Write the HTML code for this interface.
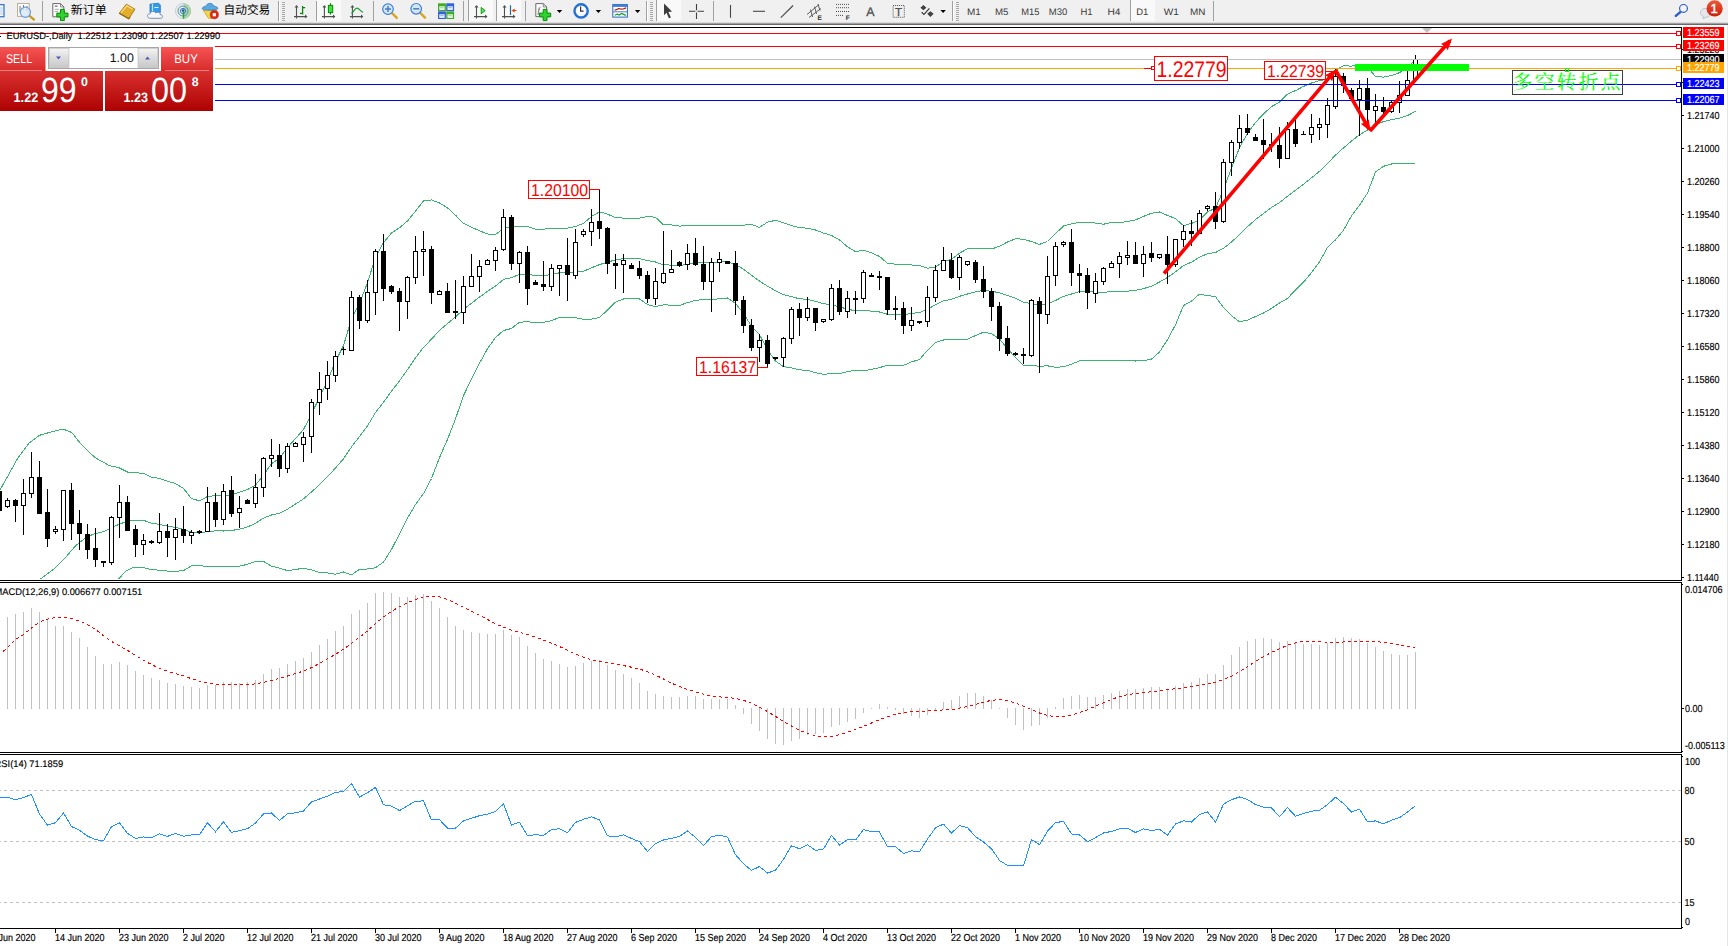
<!DOCTYPE html>
<html><head><meta charset="utf-8"><title>EURUSD Daily</title>
<style>
html,body{margin:0;padding:0;background:#fff;}
body{width:1728px;height:946px;overflow:hidden;position:relative;font-family:"Liberation Sans", "Noto Sans CJK SC", sans-serif;}
svg{position:absolute;left:0;top:0;}
.cr{shape-rendering:crispEdges;}
text{font-family:"Liberation Sans", "Noto Sans CJK SC", sans-serif;text-rendering:geometricPrecision;}
</style></head><body>
<svg width="1728" height="946" viewBox="0 0 1728 946">
<defs><clipPath id="blk"><rect x="1683" y="54" width="41" height="8"/></clipPath><clipPath id="mainclip"><rect x="0" y="28" width="1681" height="552"/></clipPath></defs>
<g class="cr">
<rect x="0" y="27" width="1682" height="1" fill="#000"/>
<rect x="0" y="580" width="1682" height="1" fill="#000"/>
<rect x="0" y="582" width="1682" height="1" fill="#000"/>
<rect x="0" y="752" width="1682" height="1" fill="#000"/>
<rect x="0" y="754" width="1682" height="1" fill="#000"/>
<rect x="0" y="928" width="1682" height="1" fill="#000"/>
<rect x="1681" y="27" width="1" height="554" fill="#000"/>
<rect x="1681" y="582" width="1" height="171" fill="#000"/>
<rect x="1681" y="754" width="1" height="175" fill="#000"/>
<g clip-path="url(#mainclip)">
<polyline points="0,490 9,474 18,457.7 28.8,443.4 39.5,435.3 52.1,431.7 62.9,429 71.9,432.6 79,441.6 86.3,449.6 95.2,457.7 109.6,465.8 118.6,467.6 127.6,472.1 143.8,473.4 151.5,477.2 159.5,478.4 167.5,481.3 175.5,483.5 183.5,488.4 191.5,498.7 199.5,500.8 207.5,496.5 215.5,495.6 223.5,495.9 231.5,494.6 239.5,492.2 247.5,489.5 255.5,485.3 263.5,474.8 271.5,463.8 279.5,458.4 287.5,447.6 295.5,438.6 303.5,429.6 311.5,413.9 319.5,397.2 327.5,380.6 335.5,361.8 343.5,345.5 351.5,319 359.5,303.5 367.5,282.7 375.5,257.2 383.5,242.6 391.5,233.1 399.5,227.7 407.5,221 415.5,211.1 423.5,201 431.5,199.9 439.5,203 447.5,207.9 455.5,215.2 463.5,223.3 471.5,227.3 479.5,230.8 487.5,234 495.5,234.4 503.5,228.4 511.5,226.9 519.5,226.4 527.5,226.5 535.5,229.1 543.5,229.1 551.5,228.4 559.5,228.2 567.5,228.1 575.5,226.6 583.5,223.3 591.5,216.5 599.5,211.8 607.5,214.1 615.5,217.6 623.5,218.1 631.5,218.2 639.5,218.1 647.5,216.4 655.5,217.3 663.5,224.8 671.5,225 679.5,226.1 687.5,225.5 695.5,225.6 703.5,226 711.5,225.7 719.5,225.5 727.5,225.3 735.5,225.6 743.5,225.1 751.5,224.5 759.5,227.4 767.5,222.2 775.5,220.3 783.5,222.7 791.5,225.5 799.5,227.8 807.5,228.1 815.5,230 823.5,233.1 831.5,235.4 839.5,240 847.5,246.7 855.5,251.7 863.5,250.2 871.5,252.9 879.5,256.4 887.5,263.4 895.5,264.2 903.5,264.2 911.5,265 919.5,265.6 927.5,268.2 935.5,267.1 943.5,261.8 951.5,259.2 959.5,253.2 967.5,248.7 975.5,248.1 983.5,248.6 991.5,249 999.5,246.3 1007.5,242 1015.5,238.8 1023.5,239.2 1031.5,241.6 1039.5,244.4 1047.5,241.5 1055.5,233.7 1063.5,226 1071.5,223.8 1079.5,222.3 1087.5,222.1 1095.5,223.1 1103.5,224.2 1111.5,222.6 1119.5,222.5 1127.5,221.6 1135.5,219.9 1143.5,216.4 1151.5,213.2 1159.5,212 1167.5,215.4 1175.5,218.6 1183.5,225.6 1191.5,223.4 1199.5,220.4 1207.5,211.8 1215.5,208.3 1223.5,189.4 1231.5,168.1 1239.5,147.6 1247.5,133.2 1255.5,122.5 1263.5,113.8 1271.5,106.6 1279.5,102.2 1287.5,94.1 1295.5,90.6 1303.5,86.4 1311.5,83 1319.5,80.7 1327.5,79.2 1335.5,70.5 1343.5,65.6 1351.5,66.2 1359.5,64.5 1367.5,67 1375.5,76.5 1383.5,77.1 1391.5,75.4 1399.5,72.7 1407.5,67.8 1415.5,59.5" fill="none" stroke="#3cb371" stroke-width="1" />
<polyline points="40.4,579 53.9,569.1 64.7,558.4 75.5,545.8 84.5,538.6 93.4,534.1 104.2,531.4 115,526 124,522.4 131.2,520.3 143.8,520.3 151.5,523.3 159.5,524.4 167.5,526.2 175.5,527.4 183.5,529.5 191.5,532.3 199.5,533.2 207.5,531.4 215.5,530.9 223.5,531 231.5,530.5 239.5,529.2 247.5,526.9 255.5,523.3 263.5,518.1 271.5,515 279.5,513.3 287.5,509.1 295.5,504.1 303.5,498.9 311.5,491.9 319.5,484.8 327.5,476.7 335.5,468 343.5,458.8 351.5,447 359.5,436.4 367.5,425.9 375.5,412.5 383.5,402.3 391.5,391.2 399.5,380.9 407.5,369.6 415.5,357.8 423.5,347.3 431.5,339.2 439.5,330.3 447.5,323.6 455.5,317 463.5,309.5 471.5,303.2 479.5,297.1 487.5,291.3 495.5,286 503.5,279.4 511.5,277.7 519.5,274.3 527.5,274.1 535.5,275.8 543.5,275.7 551.5,274.5 559.5,272.8 567.5,272.6 575.5,272.2 583.5,271.3 591.5,267.8 599.5,264.6 607.5,262.2 615.5,259.8 623.5,258.6 631.5,258.1 639.5,258.6 647.5,260.5 655.5,262 663.5,264.8 671.5,265.1 679.5,265.8 687.5,264 695.5,263 703.5,262.8 711.5,262.5 719.5,262.2 727.5,261.6 735.5,264.5 743.5,269.2 751.5,275.4 759.5,281.1 767.5,286.1 775.5,290.7 783.5,294.6 791.5,296.7 799.5,298.8 807.5,299.3 815.5,301.3 823.5,303.7 831.5,304.6 839.5,306.9 847.5,309.1 855.5,310.9 863.5,310.4 871.5,311.1 879.5,312 887.5,314.3 895.5,314.8 903.5,314.8 911.5,313.4 919.5,312.5 927.5,309.2 935.5,304.8 943.5,300.9 951.5,299.3 959.5,296.3 967.5,294 975.5,291.8 983.5,290.4 991.5,291.3 999.5,292.7 1007.5,295.4 1015.5,298.2 1023.5,302.3 1031.5,303.5 1039.5,305.3 1047.5,303.7 1055.5,300.5 1063.5,296.4 1071.5,294 1079.5,291.6 1087.5,291.3 1095.5,291.9 1103.5,292.3 1111.5,291.6 1119.5,291.5 1127.5,291.2 1135.5,290.4 1143.5,288.6 1151.5,286.2 1159.5,282 1167.5,277.5 1175.5,271.8 1183.5,265.6 1191.5,262.2 1199.5,257.2 1207.5,253.7 1215.5,252.5 1223.5,248.4 1231.5,242 1239.5,234.6 1247.5,226.6 1255.5,219.6 1263.5,213.4 1271.5,207.5 1279.5,202.6 1287.5,196.3 1295.5,190.3 1303.5,184.3 1311.5,177.8 1319.5,171.3 1327.5,163.3 1335.5,155.2 1343.5,147.9 1351.5,141.1 1359.5,134.8 1367.5,130 1375.5,124.3 1383.5,121.7 1391.5,119.7 1399.5,118.1 1407.5,115.5 1415.5,111.4" fill="none" stroke="#3cb371" stroke-width="1" />
<polyline points="118.6,579 125.8,571 133,567.7 143.8,567.7 151.5,569.5 159.5,570.3 167.5,571.1 175.5,571.3 183.5,570.7 191.5,565.8 199.5,565.7 207.5,566.4 215.5,566.3 223.5,566.1 231.5,566.3 239.5,566.2 247.5,564.3 255.5,561.3 263.5,561.4 271.5,566.2 279.5,568.2 287.5,570.6 295.5,569.5 303.5,568.2 311.5,569.9 319.5,572.4 327.5,572.9 335.5,574.2 343.5,572 351.5,574.9 359.5,569.3 367.5,569 375.5,567.7 383.5,562.1 391.5,549.4 399.5,534 407.5,518.2 415.5,504.5 423.5,493.6 431.5,478.5 439.5,457.6 447.5,439.4 455.5,418.9 463.5,395.6 471.5,379.1 479.5,363.3 487.5,348.7 495.5,337.6 503.5,330.5 511.5,328.5 519.5,322.2 527.5,321.8 535.5,322.5 543.5,322.3 551.5,320.7 559.5,317.3 567.5,317.1 575.5,317.7 583.5,319.2 591.5,319.1 599.5,317.4 607.5,310.2 615.5,302.1 623.5,299 631.5,298.1 639.5,299 647.5,304.5 655.5,306.7 663.5,304.8 671.5,305.2 679.5,305.4 687.5,302.6 695.5,300.4 703.5,299.6 711.5,299.2 719.5,298.9 727.5,297.9 735.5,303.4 743.5,313.3 751.5,326.4 759.5,334.7 767.5,349.9 775.5,361.1 783.5,366.6 791.5,367.8 799.5,369.8 807.5,370.4 815.5,372.7 823.5,374.2 831.5,373.8 839.5,373.8 847.5,371.6 855.5,370.1 863.5,370.7 871.5,369.4 879.5,367.6 887.5,365.3 895.5,365.4 903.5,365.4 911.5,361.9 919.5,359.5 927.5,350.3 935.5,342.6 943.5,340 951.5,339.5 959.5,339.4 967.5,339.3 975.5,335.5 983.5,332.2 991.5,333.7 999.5,339 1007.5,348.8 1015.5,357.5 1023.5,365.4 1031.5,365.5 1039.5,366.3 1047.5,365.8 1055.5,367.4 1063.5,366.7 1071.5,364.1 1079.5,360.9 1087.5,360.6 1095.5,360.6 1103.5,360.4 1111.5,360.5 1119.5,360.6 1127.5,360.9 1135.5,361 1143.5,360.8 1151.5,359.1 1159.5,352 1167.5,339.7 1175.5,324.9 1183.5,305.5 1191.5,301.1 1199.5,294.1 1207.5,295.6 1215.5,296.6 1223.5,307.5 1231.5,315.8 1239.5,321.7 1247.5,320.1 1255.5,316.6 1263.5,313 1271.5,308.4 1279.5,303 1287.5,298.4 1295.5,290 1303.5,282.2 1311.5,272.6 1319.5,261.8 1327.5,247.4 1335.5,239.9 1343.5,230.1 1351.5,216 1359.5,205.2 1367.5,193 1375.5,172 1383.5,166.3 1391.5,164 1399.5,163.4 1407.5,163.1 1415.5,163.3" fill="none" stroke="#3cb371" stroke-width="1" />
</g>
<rect x="-1" y="486" width="1" height="31" fill="#000"/>
<rect x="-3" y="491" width="5" height="20" fill="#000"/>
<rect x="7" y="498" width="1" height="10" fill="#000"/>
<rect x="5" y="500" width="5" height="7" fill="#000"/>
<rect x="6" y="501" width="3" height="5" fill="#fff"/>
<rect x="15" y="499" width="1" height="23" fill="#000"/>
<rect x="13" y="500" width="5" height="6" fill="#000"/>
<rect x="23" y="479" width="1" height="56" fill="#000"/>
<rect x="21" y="493" width="5" height="13" fill="#000"/>
<rect x="22" y="494" width="3" height="11" fill="#fff"/>
<rect x="31" y="452" width="1" height="46" fill="#000"/>
<rect x="29" y="477" width="5" height="17" fill="#000"/>
<rect x="30" y="478" width="3" height="15" fill="#fff"/>
<rect x="39" y="461" width="1" height="53" fill="#000"/>
<rect x="37" y="477" width="5" height="37" fill="#000"/>
<rect x="47" y="489" width="1" height="58" fill="#000"/>
<rect x="45" y="512" width="5" height="27" fill="#000"/>
<rect x="55" y="526" width="1" height="8" fill="#000"/>
<rect x="53" y="529" width="5" height="3" fill="#000"/>
<rect x="54" y="530" width="3" height="1" fill="#fff"/>
<rect x="63" y="490" width="1" height="51" fill="#000"/>
<rect x="61" y="490" width="5" height="40" fill="#000"/>
<rect x="62" y="491" width="3" height="38" fill="#fff"/>
<rect x="71" y="483" width="1" height="57" fill="#000"/>
<rect x="69" y="490" width="5" height="34" fill="#000"/>
<rect x="79" y="510" width="1" height="40" fill="#000"/>
<rect x="77" y="523" width="5" height="11" fill="#000"/>
<rect x="87" y="524" width="1" height="35" fill="#000"/>
<rect x="85" y="534" width="5" height="16" fill="#000"/>
<rect x="95" y="528" width="1" height="39" fill="#000"/>
<rect x="93" y="548" width="5" height="12" fill="#000"/>
<rect x="103" y="561" width="1" height="6" fill="#000"/>
<rect x="101" y="561" width="5" height="2" fill="#000"/>
<rect x="111" y="516" width="1" height="49" fill="#000"/>
<rect x="109" y="517" width="5" height="46" fill="#000"/>
<rect x="110" y="518" width="3" height="44" fill="#fff"/>
<rect x="119" y="485" width="1" height="53" fill="#000"/>
<rect x="117" y="502" width="5" height="16" fill="#000"/>
<rect x="118" y="503" width="3" height="14" fill="#fff"/>
<rect x="127" y="496" width="1" height="35" fill="#000"/>
<rect x="125" y="502" width="5" height="29" fill="#000"/>
<rect x="135" y="525" width="1" height="32" fill="#000"/>
<rect x="133" y="529" width="5" height="16" fill="#000"/>
<rect x="143" y="534" width="1" height="21" fill="#000"/>
<rect x="141" y="540" width="5" height="5" fill="#000"/>
<rect x="142" y="541" width="3" height="3" fill="#fff"/>
<rect x="151" y="540" width="1" height="4" fill="#000"/>
<rect x="149" y="541" width="5" height="2" fill="#000"/>
<rect x="159" y="513" width="1" height="31" fill="#000"/>
<rect x="157" y="531" width="5" height="12" fill="#000"/>
<rect x="158" y="532" width="3" height="10" fill="#fff"/>
<rect x="167" y="524" width="1" height="33" fill="#000"/>
<rect x="165" y="531" width="5" height="7" fill="#000"/>
<rect x="175" y="518" width="1" height="42" fill="#000"/>
<rect x="173" y="529" width="5" height="9" fill="#000"/>
<rect x="174" y="530" width="3" height="7" fill="#fff"/>
<rect x="183" y="506" width="1" height="37" fill="#000"/>
<rect x="181" y="529" width="5" height="7" fill="#000"/>
<rect x="191" y="530" width="1" height="14" fill="#000"/>
<rect x="189" y="532" width="5" height="4" fill="#000"/>
<rect x="190" y="533" width="3" height="2" fill="#fff"/>
<rect x="199" y="530" width="1" height="4" fill="#000"/>
<rect x="197" y="531" width="5" height="2" fill="#000"/>
<rect x="207" y="487" width="1" height="45" fill="#000"/>
<rect x="205" y="502" width="5" height="30" fill="#000"/>
<rect x="206" y="503" width="3" height="28" fill="#fff"/>
<rect x="215" y="493" width="1" height="34" fill="#000"/>
<rect x="213" y="502" width="5" height="18" fill="#000"/>
<rect x="223" y="484" width="1" height="41" fill="#000"/>
<rect x="221" y="491" width="5" height="29" fill="#000"/>
<rect x="222" y="492" width="3" height="27" fill="#fff"/>
<rect x="231" y="476" width="1" height="41" fill="#000"/>
<rect x="229" y="490" width="5" height="24" fill="#000"/>
<rect x="239" y="496" width="1" height="32" fill="#000"/>
<rect x="237" y="508" width="5" height="5" fill="#000"/>
<rect x="238" y="509" width="3" height="3" fill="#fff"/>
<rect x="247" y="499" width="1" height="5" fill="#000"/>
<rect x="245" y="500" width="5" height="4" fill="#000"/>
<rect x="255" y="474" width="1" height="34" fill="#000"/>
<rect x="253" y="487" width="5" height="17" fill="#000"/>
<rect x="254" y="488" width="3" height="15" fill="#fff"/>
<rect x="263" y="457" width="1" height="40" fill="#000"/>
<rect x="261" y="458" width="5" height="30" fill="#000"/>
<rect x="262" y="459" width="3" height="28" fill="#fff"/>
<rect x="271" y="439" width="1" height="28" fill="#000"/>
<rect x="269" y="455" width="5" height="4" fill="#000"/>
<rect x="270" y="456" width="3" height="2" fill="#fff"/>
<rect x="279" y="444" width="1" height="33" fill="#000"/>
<rect x="277" y="455" width="5" height="14" fill="#000"/>
<rect x="287" y="443" width="1" height="30" fill="#000"/>
<rect x="285" y="446" width="5" height="23" fill="#000"/>
<rect x="286" y="447" width="3" height="21" fill="#fff"/>
<rect x="295" y="442" width="1" height="5" fill="#000"/>
<rect x="293" y="443" width="5" height="4" fill="#000"/>
<rect x="294" y="444" width="3" height="2" fill="#fff"/>
<rect x="303" y="432" width="1" height="30" fill="#000"/>
<rect x="301" y="437" width="5" height="8" fill="#000"/>
<rect x="302" y="438" width="3" height="6" fill="#fff"/>
<rect x="311" y="399" width="1" height="54" fill="#000"/>
<rect x="309" y="402" width="5" height="35" fill="#000"/>
<rect x="310" y="403" width="3" height="33" fill="#fff"/>
<rect x="319" y="372" width="1" height="43" fill="#000"/>
<rect x="317" y="389" width="5" height="14" fill="#000"/>
<rect x="318" y="390" width="3" height="12" fill="#fff"/>
<rect x="327" y="361" width="1" height="39" fill="#000"/>
<rect x="325" y="375" width="5" height="14" fill="#000"/>
<rect x="326" y="376" width="3" height="12" fill="#fff"/>
<rect x="335" y="351" width="1" height="31" fill="#000"/>
<rect x="333" y="356" width="5" height="20" fill="#000"/>
<rect x="334" y="357" width="3" height="18" fill="#fff"/>
<rect x="343" y="347" width="1" height="8" fill="#000"/>
<rect x="341" y="349" width="5" height="1" fill="#000"/>
<rect x="351" y="291" width="1" height="60" fill="#000"/>
<rect x="349" y="297" width="5" height="54" fill="#000"/>
<rect x="350" y="298" width="3" height="52" fill="#fff"/>
<rect x="359" y="295" width="1" height="34" fill="#000"/>
<rect x="357" y="297" width="5" height="24" fill="#000"/>
<rect x="367" y="280" width="1" height="43" fill="#000"/>
<rect x="365" y="292" width="5" height="29" fill="#000"/>
<rect x="366" y="293" width="3" height="27" fill="#fff"/>
<rect x="375" y="249" width="1" height="66" fill="#000"/>
<rect x="373" y="251" width="5" height="42" fill="#000"/>
<rect x="374" y="252" width="3" height="40" fill="#fff"/>
<rect x="383" y="234" width="1" height="67" fill="#000"/>
<rect x="381" y="251" width="5" height="38" fill="#000"/>
<rect x="391" y="285" width="1" height="9" fill="#000"/>
<rect x="389" y="286" width="5" height="6" fill="#000"/>
<rect x="399" y="288" width="1" height="43" fill="#000"/>
<rect x="397" y="291" width="5" height="11" fill="#000"/>
<rect x="407" y="276" width="1" height="43" fill="#000"/>
<rect x="405" y="277" width="5" height="25" fill="#000"/>
<rect x="406" y="278" width="3" height="23" fill="#fff"/>
<rect x="415" y="236" width="1" height="48" fill="#000"/>
<rect x="413" y="251" width="5" height="27" fill="#000"/>
<rect x="414" y="252" width="3" height="25" fill="#fff"/>
<rect x="423" y="231" width="1" height="45" fill="#000"/>
<rect x="421" y="249" width="5" height="3" fill="#000"/>
<rect x="422" y="250" width="3" height="1" fill="#fff"/>
<rect x="431" y="246" width="1" height="58" fill="#000"/>
<rect x="429" y="249" width="5" height="44" fill="#000"/>
<rect x="439" y="290" width="1" height="5" fill="#000"/>
<rect x="437" y="291" width="5" height="4" fill="#000"/>
<rect x="438" y="292" width="3" height="2" fill="#fff"/>
<rect x="447" y="283" width="1" height="30" fill="#000"/>
<rect x="445" y="291" width="5" height="22" fill="#000"/>
<rect x="455" y="280" width="1" height="39" fill="#000"/>
<rect x="453" y="311" width="5" height="2" fill="#000"/>
<rect x="463" y="276" width="1" height="48" fill="#000"/>
<rect x="461" y="286" width="5" height="27" fill="#000"/>
<rect x="462" y="287" width="3" height="25" fill="#fff"/>
<rect x="471" y="254" width="1" height="33" fill="#000"/>
<rect x="469" y="276" width="5" height="11" fill="#000"/>
<rect x="470" y="277" width="3" height="9" fill="#fff"/>
<rect x="479" y="260" width="1" height="32" fill="#000"/>
<rect x="477" y="266" width="5" height="11" fill="#000"/>
<rect x="478" y="267" width="3" height="9" fill="#fff"/>
<rect x="487" y="259" width="1" height="6" fill="#000"/>
<rect x="485" y="260" width="5" height="5" fill="#000"/>
<rect x="486" y="261" width="3" height="3" fill="#fff"/>
<rect x="495" y="247" width="1" height="24" fill="#000"/>
<rect x="493" y="250" width="5" height="11" fill="#000"/>
<rect x="494" y="251" width="3" height="9" fill="#fff"/>
<rect x="503" y="209" width="1" height="42" fill="#000"/>
<rect x="501" y="217" width="5" height="33" fill="#000"/>
<rect x="502" y="218" width="3" height="31" fill="#fff"/>
<rect x="511" y="215" width="1" height="55" fill="#000"/>
<rect x="509" y="217" width="5" height="47" fill="#000"/>
<rect x="519" y="251" width="1" height="32" fill="#000"/>
<rect x="517" y="252" width="5" height="12" fill="#000"/>
<rect x="518" y="253" width="3" height="10" fill="#fff"/>
<rect x="527" y="246" width="1" height="59" fill="#000"/>
<rect x="525" y="252" width="5" height="37" fill="#000"/>
<rect x="535" y="280" width="1" height="5" fill="#000"/>
<rect x="533" y="282" width="5" height="3" fill="#000"/>
<rect x="543" y="261" width="1" height="30" fill="#000"/>
<rect x="541" y="284" width="5" height="3" fill="#000"/>
<rect x="551" y="264" width="1" height="27" fill="#000"/>
<rect x="549" y="268" width="5" height="19" fill="#000"/>
<rect x="550" y="269" width="3" height="17" fill="#fff"/>
<rect x="559" y="265" width="1" height="31" fill="#000"/>
<rect x="557" y="265" width="5" height="4" fill="#000"/>
<rect x="558" y="266" width="3" height="2" fill="#fff"/>
<rect x="567" y="238" width="1" height="63" fill="#000"/>
<rect x="565" y="265" width="5" height="10" fill="#000"/>
<rect x="575" y="229" width="1" height="50" fill="#000"/>
<rect x="573" y="242" width="5" height="34" fill="#000"/>
<rect x="574" y="243" width="3" height="32" fill="#fff"/>
<rect x="583" y="229" width="1" height="8" fill="#000"/>
<rect x="581" y="231" width="5" height="4" fill="#000"/>
<rect x="582" y="232" width="3" height="2" fill="#fff"/>
<rect x="591" y="209" width="1" height="37" fill="#000"/>
<rect x="589" y="222" width="5" height="10" fill="#000"/>
<rect x="590" y="223" width="3" height="8" fill="#fff"/>
<rect x="599" y="190" width="1" height="49" fill="#000"/>
<rect x="597" y="221" width="5" height="8" fill="#000"/>
<rect x="607" y="227" width="1" height="47" fill="#000"/>
<rect x="605" y="228" width="5" height="36" fill="#000"/>
<rect x="615" y="254" width="1" height="35" fill="#000"/>
<rect x="613" y="263" width="5" height="3" fill="#000"/>
<rect x="623" y="254" width="1" height="39" fill="#000"/>
<rect x="621" y="260" width="5" height="5" fill="#000"/>
<rect x="622" y="261" width="3" height="3" fill="#fff"/>
<rect x="631" y="263" width="1" height="6" fill="#000"/>
<rect x="629" y="265" width="5" height="4" fill="#000"/>
<rect x="639" y="261" width="1" height="18" fill="#000"/>
<rect x="637" y="268" width="5" height="8" fill="#000"/>
<rect x="647" y="271" width="1" height="32" fill="#000"/>
<rect x="645" y="275" width="5" height="24" fill="#000"/>
<rect x="655" y="268" width="1" height="37" fill="#000"/>
<rect x="653" y="281" width="5" height="18" fill="#000"/>
<rect x="654" y="282" width="3" height="16" fill="#fff"/>
<rect x="663" y="231" width="1" height="53" fill="#000"/>
<rect x="661" y="273" width="5" height="10" fill="#000"/>
<rect x="662" y="274" width="3" height="8" fill="#fff"/>
<rect x="671" y="250" width="1" height="23" fill="#000"/>
<rect x="669" y="269" width="5" height="4" fill="#000"/>
<rect x="670" y="270" width="3" height="2" fill="#fff"/>
<rect x="679" y="261" width="1" height="6" fill="#000"/>
<rect x="677" y="262" width="5" height="4" fill="#000"/>
<rect x="687" y="244" width="1" height="26" fill="#000"/>
<rect x="685" y="253" width="5" height="12" fill="#000"/>
<rect x="686" y="254" width="3" height="10" fill="#fff"/>
<rect x="695" y="238" width="1" height="28" fill="#000"/>
<rect x="693" y="253" width="5" height="12" fill="#000"/>
<rect x="703" y="246" width="1" height="44" fill="#000"/>
<rect x="701" y="264" width="5" height="18" fill="#000"/>
<rect x="711" y="258" width="1" height="54" fill="#000"/>
<rect x="709" y="262" width="5" height="20" fill="#000"/>
<rect x="710" y="263" width="3" height="18" fill="#fff"/>
<rect x="719" y="252" width="1" height="20" fill="#000"/>
<rect x="717" y="259" width="5" height="4" fill="#000"/>
<rect x="718" y="260" width="3" height="2" fill="#fff"/>
<rect x="727" y="261" width="1" height="3" fill="#000"/>
<rect x="725" y="261" width="5" height="3" fill="#000"/>
<rect x="735" y="251" width="1" height="64" fill="#000"/>
<rect x="733" y="263" width="5" height="38" fill="#000"/>
<rect x="743" y="296" width="1" height="37" fill="#000"/>
<rect x="741" y="300" width="5" height="26" fill="#000"/>
<rect x="751" y="319" width="1" height="32" fill="#000"/>
<rect x="749" y="325" width="5" height="23" fill="#000"/>
<rect x="759" y="334" width="1" height="28" fill="#000"/>
<rect x="757" y="340" width="5" height="8" fill="#000"/>
<rect x="758" y="341" width="3" height="6" fill="#fff"/>
<rect x="767" y="335" width="1" height="33" fill="#000"/>
<rect x="765" y="340" width="5" height="24" fill="#000"/>
<rect x="775" y="357" width="1" height="3" fill="#000"/>
<rect x="773" y="357" width="5" height="2" fill="#000"/>
<rect x="783" y="337" width="1" height="30" fill="#000"/>
<rect x="781" y="338" width="5" height="20" fill="#000"/>
<rect x="782" y="339" width="3" height="18" fill="#fff"/>
<rect x="791" y="307" width="1" height="37" fill="#000"/>
<rect x="789" y="309" width="5" height="30" fill="#000"/>
<rect x="790" y="310" width="3" height="28" fill="#fff"/>
<rect x="799" y="303" width="1" height="33" fill="#000"/>
<rect x="797" y="309" width="5" height="9" fill="#000"/>
<rect x="807" y="297" width="1" height="24" fill="#000"/>
<rect x="805" y="308" width="5" height="10" fill="#000"/>
<rect x="806" y="309" width="3" height="8" fill="#fff"/>
<rect x="815" y="308" width="1" height="23" fill="#000"/>
<rect x="813" y="308" width="5" height="15" fill="#000"/>
<rect x="823" y="319" width="1" height="4" fill="#000"/>
<rect x="821" y="319" width="5" height="3" fill="#000"/>
<rect x="822" y="320" width="3" height="1" fill="#fff"/>
<rect x="831" y="284" width="1" height="37" fill="#000"/>
<rect x="829" y="288" width="5" height="32" fill="#000"/>
<rect x="830" y="289" width="3" height="30" fill="#fff"/>
<rect x="839" y="280" width="1" height="35" fill="#000"/>
<rect x="837" y="288" width="5" height="24" fill="#000"/>
<rect x="847" y="291" width="1" height="27" fill="#000"/>
<rect x="845" y="298" width="5" height="14" fill="#000"/>
<rect x="846" y="299" width="3" height="12" fill="#fff"/>
<rect x="855" y="291" width="1" height="23" fill="#000"/>
<rect x="853" y="298" width="5" height="2" fill="#000"/>
<rect x="863" y="270" width="1" height="33" fill="#000"/>
<rect x="861" y="272" width="5" height="27" fill="#000"/>
<rect x="862" y="273" width="3" height="25" fill="#fff"/>
<rect x="871" y="273" width="1" height="4" fill="#000"/>
<rect x="869" y="275" width="5" height="2" fill="#000"/>
<rect x="879" y="271" width="1" height="19" fill="#000"/>
<rect x="877" y="276" width="5" height="2" fill="#000"/>
<rect x="887" y="277" width="1" height="38" fill="#000"/>
<rect x="885" y="277" width="5" height="33" fill="#000"/>
<rect x="895" y="296" width="1" height="24" fill="#000"/>
<rect x="893" y="308" width="5" height="2" fill="#000"/>
<rect x="903" y="302" width="1" height="32" fill="#000"/>
<rect x="901" y="308" width="5" height="18" fill="#000"/>
<rect x="911" y="307" width="1" height="24" fill="#000"/>
<rect x="909" y="320" width="5" height="6" fill="#000"/>
<rect x="910" y="321" width="3" height="4" fill="#fff"/>
<rect x="919" y="321" width="1" height="3" fill="#000"/>
<rect x="917" y="321" width="5" height="2" fill="#000"/>
<rect x="927" y="286" width="1" height="41" fill="#000"/>
<rect x="925" y="297" width="5" height="25" fill="#000"/>
<rect x="926" y="298" width="3" height="23" fill="#fff"/>
<rect x="935" y="265" width="1" height="37" fill="#000"/>
<rect x="933" y="270" width="5" height="28" fill="#000"/>
<rect x="934" y="271" width="3" height="26" fill="#fff"/>
<rect x="943" y="247" width="1" height="24" fill="#000"/>
<rect x="941" y="260" width="5" height="11" fill="#000"/>
<rect x="942" y="261" width="3" height="9" fill="#fff"/>
<rect x="951" y="253" width="1" height="26" fill="#000"/>
<rect x="949" y="260" width="5" height="18" fill="#000"/>
<rect x="959" y="255" width="1" height="35" fill="#000"/>
<rect x="957" y="257" width="5" height="21" fill="#000"/>
<rect x="958" y="258" width="3" height="19" fill="#fff"/>
<rect x="967" y="261" width="1" height="5" fill="#000"/>
<rect x="965" y="261" width="5" height="4" fill="#000"/>
<rect x="966" y="262" width="3" height="2" fill="#fff"/>
<rect x="975" y="260" width="1" height="23" fill="#000"/>
<rect x="973" y="262" width="5" height="18" fill="#000"/>
<rect x="983" y="266" width="1" height="32" fill="#000"/>
<rect x="981" y="279" width="5" height="13" fill="#000"/>
<rect x="991" y="288" width="1" height="33" fill="#000"/>
<rect x="989" y="291" width="5" height="16" fill="#000"/>
<rect x="999" y="302" width="1" height="49" fill="#000"/>
<rect x="997" y="306" width="5" height="33" fill="#000"/>
<rect x="1007" y="326" width="1" height="30" fill="#000"/>
<rect x="1005" y="338" width="5" height="16" fill="#000"/>
<rect x="1015" y="352" width="1" height="4" fill="#000"/>
<rect x="1013" y="353" width="5" height="2" fill="#000"/>
<rect x="1023" y="348" width="1" height="16" fill="#000"/>
<rect x="1021" y="354" width="5" height="2" fill="#000"/>
<rect x="1031" y="299" width="1" height="58" fill="#000"/>
<rect x="1029" y="300" width="5" height="56" fill="#000"/>
<rect x="1030" y="301" width="3" height="54" fill="#fff"/>
<rect x="1039" y="297" width="1" height="76" fill="#000"/>
<rect x="1037" y="301" width="5" height="13" fill="#000"/>
<rect x="1047" y="256" width="1" height="68" fill="#000"/>
<rect x="1045" y="276" width="5" height="39" fill="#000"/>
<rect x="1046" y="277" width="3" height="37" fill="#fff"/>
<rect x="1055" y="242" width="1" height="44" fill="#000"/>
<rect x="1053" y="246" width="5" height="30" fill="#000"/>
<rect x="1054" y="247" width="3" height="28" fill="#fff"/>
<rect x="1063" y="241" width="1" height="6" fill="#000"/>
<rect x="1061" y="242" width="5" height="3" fill="#000"/>
<rect x="1062" y="243" width="3" height="1" fill="#fff"/>
<rect x="1071" y="229" width="1" height="57" fill="#000"/>
<rect x="1069" y="242" width="5" height="31" fill="#000"/>
<rect x="1079" y="264" width="1" height="29" fill="#000"/>
<rect x="1077" y="273" width="5" height="3" fill="#000"/>
<rect x="1087" y="268" width="1" height="41" fill="#000"/>
<rect x="1085" y="275" width="5" height="18" fill="#000"/>
<rect x="1095" y="273" width="1" height="30" fill="#000"/>
<rect x="1093" y="281" width="5" height="13" fill="#000"/>
<rect x="1094" y="282" width="3" height="11" fill="#fff"/>
<rect x="1103" y="267" width="1" height="18" fill="#000"/>
<rect x="1101" y="268" width="5" height="14" fill="#000"/>
<rect x="1102" y="269" width="3" height="12" fill="#fff"/>
<rect x="1111" y="261" width="1" height="7" fill="#000"/>
<rect x="1109" y="263" width="5" height="5" fill="#000"/>
<rect x="1110" y="264" width="3" height="3" fill="#fff"/>
<rect x="1119" y="252" width="1" height="26" fill="#000"/>
<rect x="1117" y="256" width="5" height="8" fill="#000"/>
<rect x="1118" y="257" width="3" height="6" fill="#fff"/>
<rect x="1127" y="241" width="1" height="24" fill="#000"/>
<rect x="1125" y="255" width="5" height="3" fill="#000"/>
<rect x="1126" y="256" width="3" height="1" fill="#fff"/>
<rect x="1135" y="242" width="1" height="22" fill="#000"/>
<rect x="1133" y="255" width="5" height="9" fill="#000"/>
<rect x="1143" y="246" width="1" height="31" fill="#000"/>
<rect x="1141" y="254" width="5" height="10" fill="#000"/>
<rect x="1142" y="255" width="3" height="8" fill="#fff"/>
<rect x="1151" y="242" width="1" height="20" fill="#000"/>
<rect x="1149" y="253" width="5" height="5" fill="#000"/>
<rect x="1159" y="254" width="1" height="5" fill="#000"/>
<rect x="1157" y="254" width="5" height="4" fill="#000"/>
<rect x="1158" y="255" width="3" height="2" fill="#fff"/>
<rect x="1167" y="236" width="1" height="48" fill="#000"/>
<rect x="1165" y="254" width="5" height="11" fill="#000"/>
<rect x="1175" y="239" width="1" height="28" fill="#000"/>
<rect x="1173" y="239" width="5" height="26" fill="#000"/>
<rect x="1174" y="240" width="3" height="24" fill="#fff"/>
<rect x="1183" y="225" width="1" height="22" fill="#000"/>
<rect x="1181" y="231" width="5" height="9" fill="#000"/>
<rect x="1182" y="232" width="3" height="7" fill="#fff"/>
<rect x="1191" y="220" width="1" height="26" fill="#000"/>
<rect x="1189" y="231" width="5" height="3" fill="#000"/>
<rect x="1199" y="210" width="1" height="24" fill="#000"/>
<rect x="1197" y="213" width="5" height="21" fill="#000"/>
<rect x="1198" y="214" width="3" height="19" fill="#fff"/>
<rect x="1207" y="205" width="1" height="6" fill="#000"/>
<rect x="1205" y="206" width="5" height="3" fill="#000"/>
<rect x="1206" y="207" width="3" height="1" fill="#fff"/>
<rect x="1215" y="192" width="1" height="37" fill="#000"/>
<rect x="1213" y="206" width="5" height="16" fill="#000"/>
<rect x="1223" y="159" width="1" height="64" fill="#000"/>
<rect x="1221" y="162" width="5" height="60" fill="#000"/>
<rect x="1222" y="163" width="3" height="58" fill="#fff"/>
<rect x="1231" y="140" width="1" height="36" fill="#000"/>
<rect x="1229" y="142" width="5" height="21" fill="#000"/>
<rect x="1230" y="143" width="3" height="19" fill="#fff"/>
<rect x="1239" y="115" width="1" height="34" fill="#000"/>
<rect x="1237" y="128" width="5" height="15" fill="#000"/>
<rect x="1238" y="129" width="3" height="13" fill="#fff"/>
<rect x="1247" y="114" width="1" height="21" fill="#000"/>
<rect x="1245" y="128" width="5" height="5" fill="#000"/>
<rect x="1255" y="134" width="1" height="7" fill="#000"/>
<rect x="1253" y="137" width="5" height="4" fill="#000"/>
<rect x="1263" y="119" width="1" height="40" fill="#000"/>
<rect x="1261" y="140" width="5" height="5" fill="#000"/>
<rect x="1271" y="133" width="1" height="19" fill="#000"/>
<rect x="1269" y="144" width="5" height="2" fill="#000"/>
<rect x="1279" y="127" width="1" height="41" fill="#000"/>
<rect x="1277" y="145" width="5" height="14" fill="#000"/>
<rect x="1287" y="122" width="1" height="37" fill="#000"/>
<rect x="1285" y="129" width="5" height="30" fill="#000"/>
<rect x="1286" y="130" width="3" height="28" fill="#fff"/>
<rect x="1295" y="120" width="1" height="27" fill="#000"/>
<rect x="1293" y="129" width="5" height="15" fill="#000"/>
<rect x="1303" y="131" width="1" height="4" fill="#000"/>
<rect x="1301" y="134" width="5" height="1" fill="#000"/>
<rect x="1311" y="114" width="1" height="29" fill="#000"/>
<rect x="1309" y="127" width="5" height="8" fill="#000"/>
<rect x="1310" y="128" width="3" height="6" fill="#fff"/>
<rect x="1319" y="118" width="1" height="22" fill="#000"/>
<rect x="1317" y="124" width="5" height="4" fill="#000"/>
<rect x="1318" y="125" width="3" height="2" fill="#fff"/>
<rect x="1327" y="98" width="1" height="40" fill="#000"/>
<rect x="1325" y="105" width="5" height="20" fill="#000"/>
<rect x="1326" y="106" width="3" height="18" fill="#fff"/>
<rect x="1335" y="68" width="1" height="41" fill="#000"/>
<rect x="1333" y="76" width="5" height="31" fill="#000"/>
<rect x="1334" y="77" width="3" height="29" fill="#fff"/>
<rect x="1343" y="73" width="1" height="20" fill="#000"/>
<rect x="1341" y="76" width="5" height="10" fill="#000"/>
<rect x="1351" y="88" width="1" height="11" fill="#000"/>
<rect x="1349" y="90" width="5" height="9" fill="#000"/>
<rect x="1359" y="80" width="1" height="56" fill="#000"/>
<rect x="1357" y="88" width="5" height="12" fill="#000"/>
<rect x="1358" y="89" width="3" height="10" fill="#fff"/>
<rect x="1367" y="78" width="1" height="51" fill="#000"/>
<rect x="1365" y="88" width="5" height="22" fill="#000"/>
<rect x="1375" y="94" width="1" height="30" fill="#000"/>
<rect x="1373" y="106" width="5" height="5" fill="#000"/>
<rect x="1374" y="107" width="3" height="3" fill="#fff"/>
<rect x="1383" y="97" width="1" height="18" fill="#000"/>
<rect x="1381" y="107" width="5" height="5" fill="#000"/>
<rect x="1391" y="101" width="1" height="12" fill="#000"/>
<rect x="1389" y="102" width="5" height="10" fill="#000"/>
<rect x="1390" y="103" width="3" height="8" fill="#fff"/>
<rect x="1399" y="81" width="1" height="32" fill="#000"/>
<rect x="1397" y="95" width="5" height="8" fill="#000"/>
<rect x="1398" y="96" width="3" height="6" fill="#fff"/>
<rect x="1407" y="71" width="1" height="25" fill="#000"/>
<rect x="1405" y="80" width="5" height="16" fill="#000"/>
<rect x="1406" y="81" width="3" height="14" fill="#fff"/>
<rect x="1415" y="55" width="1" height="25" fill="#000"/>
<rect x="1413" y="59" width="5" height="21" fill="#000"/>
<rect x="1414" y="60" width="3" height="19" fill="#fff"/>
<rect x="7" y="617" width="1" height="92" fill="#c0c0c0"/>
<rect x="15" y="614" width="1" height="95" fill="#c0c0c0"/>
<rect x="23" y="612" width="1" height="97" fill="#c0c0c0"/>
<rect x="31" y="608" width="1" height="101" fill="#c0c0c0"/>
<rect x="39" y="612" width="1" height="97" fill="#c0c0c0"/>
<rect x="47" y="620" width="1" height="89" fill="#c0c0c0"/>
<rect x="55" y="626" width="1" height="83" fill="#c0c0c0"/>
<rect x="63" y="626" width="1" height="83" fill="#c0c0c0"/>
<rect x="71" y="632" width="1" height="77" fill="#c0c0c0"/>
<rect x="79" y="638" width="1" height="71" fill="#c0c0c0"/>
<rect x="87" y="647" width="1" height="62" fill="#c0c0c0"/>
<rect x="95" y="656" width="1" height="53" fill="#c0c0c0"/>
<rect x="103" y="664" width="1" height="45" fill="#c0c0c0"/>
<rect x="111" y="664" width="1" height="45" fill="#c0c0c0"/>
<rect x="119" y="662" width="1" height="47" fill="#c0c0c0"/>
<rect x="127" y="665" width="1" height="44" fill="#c0c0c0"/>
<rect x="135" y="671" width="1" height="38" fill="#c0c0c0"/>
<rect x="143" y="675" width="1" height="34" fill="#c0c0c0"/>
<rect x="151" y="678" width="1" height="31" fill="#c0c0c0"/>
<rect x="159" y="680" width="1" height="29" fill="#c0c0c0"/>
<rect x="167" y="683" width="1" height="26" fill="#c0c0c0"/>
<rect x="175" y="684" width="1" height="25" fill="#c0c0c0"/>
<rect x="183" y="686" width="1" height="23" fill="#c0c0c0"/>
<rect x="191" y="687" width="1" height="22" fill="#c0c0c0"/>
<rect x="199" y="688" width="1" height="21" fill="#c0c0c0"/>
<rect x="207" y="685" width="1" height="24" fill="#c0c0c0"/>
<rect x="215" y="685" width="1" height="24" fill="#c0c0c0"/>
<rect x="223" y="682" width="1" height="27" fill="#c0c0c0"/>
<rect x="231" y="682" width="1" height="27" fill="#c0c0c0"/>
<rect x="239" y="683" width="1" height="26" fill="#c0c0c0"/>
<rect x="247" y="682" width="1" height="27" fill="#c0c0c0"/>
<rect x="255" y="680" width="1" height="29" fill="#c0c0c0"/>
<rect x="263" y="674" width="1" height="35" fill="#c0c0c0"/>
<rect x="271" y="669" width="1" height="40" fill="#c0c0c0"/>
<rect x="279" y="668" width="1" height="41" fill="#c0c0c0"/>
<rect x="287" y="664" width="1" height="45" fill="#c0c0c0"/>
<rect x="295" y="661" width="1" height="48" fill="#c0c0c0"/>
<rect x="303" y="658" width="1" height="51" fill="#c0c0c0"/>
<rect x="311" y="652" width="1" height="57" fill="#c0c0c0"/>
<rect x="319" y="645" width="1" height="64" fill="#c0c0c0"/>
<rect x="327" y="639" width="1" height="70" fill="#c0c0c0"/>
<rect x="335" y="631" width="1" height="78" fill="#c0c0c0"/>
<rect x="343" y="626" width="1" height="83" fill="#c0c0c0"/>
<rect x="351" y="614" width="1" height="95" fill="#c0c0c0"/>
<rect x="359" y="610" width="1" height="99" fill="#c0c0c0"/>
<rect x="367" y="603" width="1" height="106" fill="#c0c0c0"/>
<rect x="375" y="593" width="1" height="116" fill="#c0c0c0"/>
<rect x="383" y="592" width="1" height="117" fill="#c0c0c0"/>
<rect x="391" y="593" width="1" height="116" fill="#c0c0c0"/>
<rect x="399" y="597" width="1" height="112" fill="#c0c0c0"/>
<rect x="407" y="597" width="1" height="112" fill="#c0c0c0"/>
<rect x="415" y="595" width="1" height="114" fill="#c0c0c0"/>
<rect x="423" y="594" width="1" height="115" fill="#c0c0c0"/>
<rect x="431" y="601" width="1" height="108" fill="#c0c0c0"/>
<rect x="439" y="608" width="1" height="101" fill="#c0c0c0"/>
<rect x="447" y="617" width="1" height="92" fill="#c0c0c0"/>
<rect x="455" y="626" width="1" height="83" fill="#c0c0c0"/>
<rect x="463" y="630" width="1" height="79" fill="#c0c0c0"/>
<rect x="471" y="632" width="1" height="77" fill="#c0c0c0"/>
<rect x="479" y="633" width="1" height="76" fill="#c0c0c0"/>
<rect x="487" y="634" width="1" height="75" fill="#c0c0c0"/>
<rect x="495" y="634" width="1" height="75" fill="#c0c0c0"/>
<rect x="503" y="630" width="1" height="79" fill="#c0c0c0"/>
<rect x="511" y="635" width="1" height="74" fill="#c0c0c0"/>
<rect x="519" y="637" width="1" height="72" fill="#c0c0c0"/>
<rect x="527" y="646" width="1" height="63" fill="#c0c0c0"/>
<rect x="535" y="653" width="1" height="56" fill="#c0c0c0"/>
<rect x="543" y="659" width="1" height="50" fill="#c0c0c0"/>
<rect x="551" y="661" width="1" height="48" fill="#c0c0c0"/>
<rect x="559" y="664" width="1" height="45" fill="#c0c0c0"/>
<rect x="567" y="667" width="1" height="42" fill="#c0c0c0"/>
<rect x="575" y="666" width="1" height="43" fill="#c0c0c0"/>
<rect x="583" y="663" width="1" height="46" fill="#c0c0c0"/>
<rect x="591" y="661" width="1" height="48" fill="#c0c0c0"/>
<rect x="599" y="660" width="1" height="49" fill="#c0c0c0"/>
<rect x="607" y="665" width="1" height="44" fill="#c0c0c0"/>
<rect x="615" y="670" width="1" height="39" fill="#c0c0c0"/>
<rect x="623" y="674" width="1" height="35" fill="#c0c0c0"/>
<rect x="631" y="678" width="1" height="31" fill="#c0c0c0"/>
<rect x="639" y="683" width="1" height="26" fill="#c0c0c0"/>
<rect x="647" y="691" width="1" height="18" fill="#c0c0c0"/>
<rect x="655" y="694" width="1" height="15" fill="#c0c0c0"/>
<rect x="663" y="696" width="1" height="13" fill="#c0c0c0"/>
<rect x="671" y="697" width="1" height="12" fill="#c0c0c0"/>
<rect x="679" y="697" width="1" height="12" fill="#c0c0c0"/>
<rect x="687" y="696" width="1" height="13" fill="#c0c0c0"/>
<rect x="695" y="696" width="1" height="13" fill="#c0c0c0"/>
<rect x="703" y="699" width="1" height="10" fill="#c0c0c0"/>
<rect x="711" y="699" width="1" height="10" fill="#c0c0c0"/>
<rect x="719" y="699" width="1" height="10" fill="#c0c0c0"/>
<rect x="727" y="699" width="1" height="10" fill="#c0c0c0"/>
<rect x="735" y="705" width="1" height="4" fill="#c0c0c0"/>
<rect x="743" y="708" width="1" height="6" fill="#c0c0c0"/>
<rect x="751" y="708" width="1" height="16" fill="#c0c0c0"/>
<rect x="759" y="708" width="1" height="23" fill="#c0c0c0"/>
<rect x="767" y="708" width="1" height="31" fill="#c0c0c0"/>
<rect x="775" y="708" width="1" height="36" fill="#c0c0c0"/>
<rect x="783" y="708" width="1" height="37" fill="#c0c0c0"/>
<rect x="791" y="708" width="1" height="33" fill="#c0c0c0"/>
<rect x="799" y="708" width="1" height="31" fill="#c0c0c0"/>
<rect x="807" y="708" width="1" height="27" fill="#c0c0c0"/>
<rect x="815" y="708" width="1" height="26" fill="#c0c0c0"/>
<rect x="823" y="708" width="1" height="25" fill="#c0c0c0"/>
<rect x="831" y="708" width="1" height="19" fill="#c0c0c0"/>
<rect x="839" y="708" width="1" height="17" fill="#c0c0c0"/>
<rect x="847" y="708" width="1" height="14" fill="#c0c0c0"/>
<rect x="855" y="708" width="1" height="11" fill="#c0c0c0"/>
<rect x="863" y="708" width="1" height="5" fill="#c0c0c0"/>
<rect x="871" y="708" width="1" height="1" fill="#c0c0c0"/>
<rect x="879" y="704" width="1" height="5" fill="#c0c0c0"/>
<rect x="887" y="707" width="1" height="2" fill="#c0c0c0"/>
<rect x="895" y="708" width="1" height="2" fill="#c0c0c0"/>
<rect x="903" y="708" width="1" height="6" fill="#c0c0c0"/>
<rect x="911" y="708" width="1" height="8" fill="#c0c0c0"/>
<rect x="919" y="708" width="1" height="10" fill="#c0c0c0"/>
<rect x="927" y="708" width="1" height="7" fill="#c0c0c0"/>
<rect x="935" y="708" width="1" height="2" fill="#c0c0c0"/>
<rect x="943" y="702" width="1" height="7" fill="#c0c0c0"/>
<rect x="951" y="700" width="1" height="9" fill="#c0c0c0"/>
<rect x="959" y="696" width="1" height="13" fill="#c0c0c0"/>
<rect x="967" y="693" width="1" height="16" fill="#c0c0c0"/>
<rect x="975" y="693" width="1" height="16" fill="#c0c0c0"/>
<rect x="983" y="696" width="1" height="13" fill="#c0c0c0"/>
<rect x="991" y="700" width="1" height="9" fill="#c0c0c0"/>
<rect x="999" y="708" width="1" height="1" fill="#c0c0c0"/>
<rect x="1007" y="708" width="1" height="10" fill="#c0c0c0"/>
<rect x="1015" y="708" width="1" height="17" fill="#c0c0c0"/>
<rect x="1023" y="708" width="1" height="22" fill="#c0c0c0"/>
<rect x="1031" y="708" width="1" height="18" fill="#c0c0c0"/>
<rect x="1039" y="708" width="1" height="17" fill="#c0c0c0"/>
<rect x="1047" y="708" width="1" height="10" fill="#c0c0c0"/>
<rect x="1055" y="707" width="1" height="2" fill="#c0c0c0"/>
<rect x="1063" y="698" width="1" height="11" fill="#c0c0c0"/>
<rect x="1071" y="696" width="1" height="13" fill="#c0c0c0"/>
<rect x="1079" y="695" width="1" height="14" fill="#c0c0c0"/>
<rect x="1087" y="697" width="1" height="12" fill="#c0c0c0"/>
<rect x="1095" y="697" width="1" height="12" fill="#c0c0c0"/>
<rect x="1103" y="695" width="1" height="14" fill="#c0c0c0"/>
<rect x="1111" y="693" width="1" height="16" fill="#c0c0c0"/>
<rect x="1119" y="691" width="1" height="18" fill="#c0c0c0"/>
<rect x="1127" y="689" width="1" height="20" fill="#c0c0c0"/>
<rect x="1135" y="689" width="1" height="20" fill="#c0c0c0"/>
<rect x="1143" y="688" width="1" height="21" fill="#c0c0c0"/>
<rect x="1151" y="687" width="1" height="22" fill="#c0c0c0"/>
<rect x="1159" y="687" width="1" height="22" fill="#c0c0c0"/>
<rect x="1167" y="689" width="1" height="20" fill="#c0c0c0"/>
<rect x="1175" y="686" width="1" height="23" fill="#c0c0c0"/>
<rect x="1183" y="683" width="1" height="26" fill="#c0c0c0"/>
<rect x="1191" y="682" width="1" height="27" fill="#c0c0c0"/>
<rect x="1199" y="678" width="1" height="31" fill="#c0c0c0"/>
<rect x="1207" y="674" width="1" height="35" fill="#c0c0c0"/>
<rect x="1215" y="674" width="1" height="35" fill="#c0c0c0"/>
<rect x="1223" y="665" width="1" height="44" fill="#c0c0c0"/>
<rect x="1231" y="655" width="1" height="54" fill="#c0c0c0"/>
<rect x="1239" y="647" width="1" height="62" fill="#c0c0c0"/>
<rect x="1247" y="641" width="1" height="68" fill="#c0c0c0"/>
<rect x="1255" y="639" width="1" height="70" fill="#c0c0c0"/>
<rect x="1263" y="638" width="1" height="71" fill="#c0c0c0"/>
<rect x="1271" y="639" width="1" height="70" fill="#c0c0c0"/>
<rect x="1279" y="642" width="1" height="67" fill="#c0c0c0"/>
<rect x="1287" y="641" width="1" height="68" fill="#c0c0c0"/>
<rect x="1295" y="643" width="1" height="66" fill="#c0c0c0"/>
<rect x="1303" y="644" width="1" height="65" fill="#c0c0c0"/>
<rect x="1311" y="644" width="1" height="65" fill="#c0c0c0"/>
<rect x="1319" y="645" width="1" height="64" fill="#c0c0c0"/>
<rect x="1327" y="643" width="1" height="66" fill="#c0c0c0"/>
<rect x="1335" y="638" width="1" height="71" fill="#c0c0c0"/>
<rect x="1343" y="637" width="1" height="72" fill="#c0c0c0"/>
<rect x="1351" y="638" width="1" height="71" fill="#c0c0c0"/>
<rect x="1359" y="639" width="1" height="70" fill="#c0c0c0"/>
<rect x="1367" y="643" width="1" height="66" fill="#c0c0c0"/>
<rect x="1375" y="647" width="1" height="62" fill="#c0c0c0"/>
<rect x="1383" y="651" width="1" height="58" fill="#c0c0c0"/>
<rect x="1391" y="654" width="1" height="55" fill="#c0c0c0"/>
<rect x="1399" y="655" width="1" height="54" fill="#c0c0c0"/>
<rect x="1407" y="655" width="1" height="54" fill="#c0c0c0"/>
<rect x="1415" y="652" width="1" height="57" fill="#c0c0c0"/>
<polyline points="3.3,651.3 7.5,647.5 15.5,639.6 23.5,634.6 31.5,627.9 39.5,622.1 47.5,619.1 55.5,617.4 63.5,617.4 71.5,618.6 79.5,621 87.5,624.6 95.5,629.5 103.5,635.7 111.5,641.4 119.5,646 127.5,650.4 135.5,655.4 143.5,660.2 151.5,664.6 159.5,668.3 167.5,671.3 175.5,673.5 183.5,675.9 191.5,678.7 199.5,681.3 207.5,682.9 215.5,684.1 223.5,684.5 231.5,684.7 239.5,684.7 247.5,684.6 255.5,683.9 263.5,682.4 271.5,680.3 279.5,678.4 287.5,676 295.5,673.7 303.5,671 311.5,667.6 319.5,663.5 327.5,658.9 335.5,654.2 343.5,649.3 351.5,643.4 359.5,637.3 367.5,630.9 375.5,623.6 383.5,617 391.5,611.3 399.5,606.6 407.5,602.8 415.5,599.4 423.5,597.2 431.5,596.2 439.5,596.8 447.5,599.5 455.5,603.2 463.5,607.3 471.5,611.2 479.5,615.2 487.5,619.5 495.5,624 503.5,627.2 511.5,630.1 519.5,632.4 527.5,634.6 535.5,637.1 543.5,640.1 551.5,643.2 559.5,646.5 567.5,650.2 575.5,654.1 583.5,657.3 591.5,659.9 599.5,661.5 607.5,662.9 615.5,664.2 623.5,665.6 631.5,667.2 639.5,669 647.5,671.7 655.5,675.1 663.5,679 671.5,683.1 679.5,686.6 687.5,689.4 695.5,691.9 703.5,694.2 711.5,696 719.5,696.9 727.5,697.5 735.5,698.5 743.5,700.3 751.5,703.2 759.5,707 767.5,711.6 775.5,716.4 783.5,721.4 791.5,726 799.5,730.3 807.5,733.6 815.5,735.8 823.5,736.8 831.5,736.3 839.5,734.8 847.5,732.3 855.5,729.4 863.5,726.3 871.5,723 879.5,719.7 887.5,716.8 895.5,714.2 903.5,712.8 911.5,711.8 919.5,711.3 927.5,710.9 935.5,710.5 943.5,709.9 951.5,709.5 959.5,708.2 967.5,706.4 975.5,704.3 983.5,702.2 991.5,700.3 999.5,699.7 1007.5,700.6 1015.5,703 1023.5,706.3 1031.5,709.5 1039.5,713 1047.5,715.5 1055.5,716.7 1063.5,716.5 1071.5,715.2 1079.5,712.7 1087.5,709.7 1095.5,706.1 1103.5,702.8 1111.5,699.4 1119.5,696.6 1127.5,694.6 1135.5,693.6 1143.5,692.6 1151.5,691.8 1159.5,690.7 1167.5,689.7 1175.5,688.7 1183.5,687.6 1191.5,686.6 1199.5,685.4 1207.5,683.7 1215.5,682.1 1223.5,679.6 1231.5,676.1 1239.5,671.5 1247.5,666.5 1255.5,661.5 1263.5,656.7 1271.5,652.4 1279.5,648.8 1287.5,645.2 1295.5,642.8 1303.5,641.5 1311.5,641.2 1319.5,641.7 1327.5,642.2 1335.5,642.2 1343.5,642 1351.5,641.5 1359.5,641.3 1367.5,641.3 1375.5,641.6 1383.5,642.3 1391.5,643.2 1399.5,644.6 1407.5,646.4 1415.5,648.1" fill="none" stroke="#ff0000" stroke-width="1" stroke-dasharray="3 3"/>
<line x1="0" y1="790.5" x2="1681" y2="790.5" stroke="#c0c0c0" stroke-width="1" stroke-dasharray="3 3" stroke-dashoffset="2"/>
<line x1="0" y1="841.5" x2="1681" y2="841.5" stroke="#c0c0c0" stroke-width="1" stroke-dasharray="3 3" stroke-dashoffset="2"/>
<line x1="0" y1="902.5" x2="1681" y2="902.5" stroke="#c0c0c0" stroke-width="1" stroke-dasharray="3 3" stroke-dashoffset="2"/>
<polyline points="0,797.5 7.5,797.1 15.5,799.8 23.5,797.5 31.5,794.6 39.5,814 47.5,825.2 55.5,822.7 63.5,812.9 71.5,826.5 79.5,830.2 87.5,836.1 95.5,839.6 103.5,840.7 111.5,826.6 119.5,822.7 127.5,833.4 135.5,838.4 143.5,837 151.5,837.8 159.5,833.9 167.5,836.4 175.5,833.5 183.5,836.2 191.5,835 199.5,834.9 207.5,822.9 215.5,831.8 223.5,821.8 231.5,832.4 239.5,830.7 247.5,828.7 255.5,823 263.5,813.9 271.5,813 279.5,820.5 287.5,813.6 295.5,812.9 303.5,811 311.5,801.8 319.5,799 327.5,796.1 335.5,792.5 343.5,791.3 351.5,783.6 359.5,797.1 367.5,792.6 375.5,787.3 383.5,804.8 391.5,806.1 399.5,810.6 407.5,805.8 415.5,801.2 423.5,800.9 431.5,819.9 439.5,819.7 447.5,828.1 455.5,828.1 463.5,820.9 471.5,818.3 479.5,815.7 487.5,814.2 495.5,811.5 503.5,803.9 511.5,825 519.5,822.1 527.5,835.9 535.5,834.6 543.5,835.5 551.5,829.6 559.5,828.7 567.5,832.7 575.5,822.4 583.5,819.3 591.5,816.8 599.5,819.9 607.5,835.9 615.5,836.7 623.5,834.9 631.5,838.5 639.5,841.7 647.5,851.4 655.5,843.6 663.5,840 671.5,838.4 679.5,836.4 687.5,831.1 695.5,837.2 703.5,845.6 711.5,836.5 719.5,835.2 727.5,837.2 735.5,854.7 743.5,863.7 751.5,870.4 759.5,866.5 767.5,873.1 775.5,870.2 783.5,859.3 791.5,845.7 799.5,848.8 807.5,844.7 815.5,850.4 823.5,849 831.5,835.4 839.5,845 847.5,839.7 855.5,840 863.5,829.6 871.5,831.5 879.5,832 887.5,846.8 895.5,846.8 903.5,853.4 911.5,850.9 919.5,851.7 927.5,839 935.5,827.8 943.5,824.1 951.5,833 959.5,825.6 967.5,827.6 975.5,836.7 983.5,842.1 991.5,848.7 999.5,860.5 1007.5,865.3 1015.5,865.6 1023.5,865.9 1031.5,839.5 1039.5,844.6 1047.5,831.2 1055.5,822.6 1063.5,821.4 1071.5,833.9 1079.5,835 1087.5,841.6 1095.5,837.6 1103.5,833 1111.5,831.4 1119.5,828.8 1127.5,828.4 1135.5,832.5 1143.5,828.9 1151.5,830.5 1159.5,829.2 1167.5,835.2 1175.5,824 1183.5,820.8 1191.5,822.1 1199.5,814.4 1207.5,811.8 1215.5,822.2 1223.5,804.1 1231.5,799.7 1239.5,797 1247.5,799.5 1255.5,804.6 1263.5,807.2 1271.5,807.9 1279.5,816.7 1287.5,807.6 1295.5,816.3 1303.5,813.5 1311.5,811.2 1319.5,810.3 1327.5,804.5 1335.5,797.2 1343.5,803.5 1351.5,812.1 1359.5,809.1 1367.5,821.8 1375.5,820.9 1383.5,823.8 1391.5,820.2 1399.5,817.6 1407.5,812.1 1415.5,805.6" fill="none" stroke="#1e90ff" stroke-width="1" />
<rect x="0" y="33" width="1681" height="1" fill="#ff0000"/>
<rect x="0" y="46" width="1681" height="1" fill="#ff0000"/>
<rect x="0" y="59" width="1681" height="1" fill="#c0c0c0"/>
<rect x="0" y="68" width="1681" height="1" fill="#ffa500"/>
<rect x="0" y="84" width="1681" height="1" fill="#0000ff"/>
<rect x="0" y="100" width="1681" height="1" fill="#0000ff"/>
<rect x="1355" y="64" width="114" height="7" fill="#00ff00"/>
<rect x="1682" y="49" width="2" height="1" fill="#000"/>
<rect x="1682" y="82" width="2" height="1" fill="#000"/>
<rect x="1682" y="115" width="2" height="1" fill="#000"/>
<rect x="1682" y="148" width="2" height="1" fill="#000"/>
<rect x="1682" y="181" width="2" height="1" fill="#000"/>
<rect x="1682" y="214" width="2" height="1" fill="#000"/>
<rect x="1682" y="247" width="2" height="1" fill="#000"/>
<rect x="1682" y="280" width="2" height="1" fill="#000"/>
<rect x="1682" y="313" width="2" height="1" fill="#000"/>
<rect x="1682" y="346" width="2" height="1" fill="#000"/>
<rect x="1682" y="379" width="2" height="1" fill="#000"/>
<rect x="1682" y="412" width="2" height="1" fill="#000"/>
<rect x="1682" y="445" width="2" height="1" fill="#000"/>
<rect x="1682" y="478" width="2" height="1" fill="#000"/>
<rect x="1682" y="511" width="2" height="1" fill="#000"/>
<rect x="1682" y="544" width="2" height="1" fill="#000"/>
<rect x="1682" y="577" width="2" height="1" fill="#000"/>
<rect x="1682" y="584" width="1" height="1" fill="#000"/>
<rect x="1682" y="708" width="2" height="1" fill="#000"/>
<rect x="1682" y="751" width="1" height="1" fill="#000"/>
<rect x="1682" y="756" width="1" height="1" fill="#000"/>
<rect x="1682" y="927" width="1" height="1" fill="#000"/>
<rect x="-9" y="929" width="1" height="4" fill="#000"/>
<rect x="55" y="929" width="1" height="4" fill="#000"/>
<rect x="119" y="929" width="1" height="4" fill="#000"/>
<rect x="183" y="929" width="1" height="4" fill="#000"/>
<rect x="247" y="929" width="1" height="4" fill="#000"/>
<rect x="311" y="929" width="1" height="4" fill="#000"/>
<rect x="375" y="929" width="1" height="4" fill="#000"/>
<rect x="439" y="929" width="1" height="4" fill="#000"/>
<rect x="503" y="929" width="1" height="4" fill="#000"/>
<rect x="567" y="929" width="1" height="4" fill="#000"/>
<rect x="631" y="929" width="1" height="4" fill="#000"/>
<rect x="695" y="929" width="1" height="4" fill="#000"/>
<rect x="759" y="929" width="1" height="4" fill="#000"/>
<rect x="823" y="929" width="1" height="4" fill="#000"/>
<rect x="887" y="929" width="1" height="4" fill="#000"/>
<rect x="951" y="929" width="1" height="4" fill="#000"/>
<rect x="1015" y="929" width="1" height="4" fill="#000"/>
<rect x="1079" y="929" width="1" height="4" fill="#000"/>
<rect x="1143" y="929" width="1" height="4" fill="#000"/>
<rect x="1207" y="929" width="1" height="4" fill="#000"/>
<rect x="1271" y="929" width="1" height="4" fill="#000"/>
<rect x="1335" y="929" width="1" height="4" fill="#000"/>
<rect x="1399" y="929" width="1" height="4" fill="#000"/>
</g>
<rect x="1512.5" y="70.5" width="110" height="24" fill="none" stroke="#404040" stroke-width="1" shape-rendering="crispEdges"/>
<text x="1512.6" y="89.1" font-size="20" fill="#00ff00" style='font-family:"Liberation Serif", "Noto Serif CJK SC", serif' letter-spacing="2" font-weight="400">多空转折点</text>
<rect x="1565" y="68" width="3" height="3" fill="none" stroke="#00ff00" stroke-width="1" shape-rendering="crispEdges"/>
<line x1="1164" y1="273.5" x2="1334.1" y2="71.8" stroke="#ff0000" stroke-width="3.6"/>
<polygon points="1336,69.5 1332.1,81.3 1329.3,77.4 1325.1,75.3" fill="#ff0000"/>
<line x1="1335.5" y1="70" x2="1369" y2="128.9" stroke="#ff0000" stroke-width="3.6"/>
<polygon points="1370.5,131.5 1360.8,123.8 1365.4,122.5 1368.8,119.2" fill="#ff0000"/>
<line x1="1370" y1="131" x2="1450" y2="40.7" stroke="#ff0000" stroke-width="3.6"/>
<polygon points="1452,38.5 1447.8,50.2 1445.1,46.2 1440.9,44.1" fill="#ff0000"/>
<rect x="1144" y="68" width="7" height="1" fill="#ff0000"/>
<rect x="1151.5" y="66.5" width="3" height="3" fill="#fff" stroke="#ff0000" stroke-width="1" shape-rendering="crispEdges"/>
<rect x="1154.5" y="56.5" width="73" height="24" fill="#fff" stroke="#ff0000" stroke-width="1" shape-rendering="crispEdges"/>
<text x="1156.5" y="76.9" font-size="22.6" fill="#ff0000" textLength="70" lengthAdjust="spacingAndGlyphs">1.22779</text>
<rect x="1326" y="71" width="9" height="1" fill="#ff0000"/>
<rect x="1264.5" y="61.5" width="61" height="18" fill="#fff" stroke="#ff0000" stroke-width="1" shape-rendering="crispEdges"/>
<text x="1267" y="76.9" font-size="17.2" fill="#ff0000" textLength="57" lengthAdjust="spacingAndGlyphs">1.22739</text>
<rect x="590" y="189" width="10" height="1" fill="#ff0000"/>
<rect x="528.5" y="180.5" width="61" height="18" fill="#fff" stroke="#ff0000" stroke-width="1" shape-rendering="crispEdges"/>
<text x="531" y="195.8" font-size="17.2" fill="#ff0000" textLength="57" lengthAdjust="spacingAndGlyphs">1.20100</text>
<rect x="758" y="367" width="10" height="1" fill="#ff0000"/>
<rect x="696.5" y="357.5" width="61" height="18" fill="#fff" stroke="#ff0000" stroke-width="1" shape-rendering="crispEdges"/>
<text x="699" y="372.9" font-size="17.2" fill="#ff0000" textLength="57" lengthAdjust="spacingAndGlyphs">1.16137</text>
<polygon points="1422,28 1432,28 1427,33" fill="#c0c0c0"/>
<text transform="translate(1687,53) scale(1,1.13)" font-size="9" fill="#000" stroke="#000" stroke-width="0.15">1.23220</text>
<text transform="translate(1687,86) scale(1,1.13)" font-size="9" fill="#000" stroke="#000" stroke-width="0.15">1.22480</text>
<text transform="translate(1687,119) scale(1,1.13)" font-size="9" fill="#000" stroke="#000" stroke-width="0.15">1.21740</text>
<text transform="translate(1687,152) scale(1,1.13)" font-size="9" fill="#000" stroke="#000" stroke-width="0.15">1.21000</text>
<text transform="translate(1687,185) scale(1,1.13)" font-size="9" fill="#000" stroke="#000" stroke-width="0.15">1.20260</text>
<text transform="translate(1687,218) scale(1,1.13)" font-size="9" fill="#000" stroke="#000" stroke-width="0.15">1.19540</text>
<text transform="translate(1687,251) scale(1,1.13)" font-size="9" fill="#000" stroke="#000" stroke-width="0.15">1.18800</text>
<text transform="translate(1687,284) scale(1,1.13)" font-size="9" fill="#000" stroke="#000" stroke-width="0.15">1.18060</text>
<text transform="translate(1687,317) scale(1,1.13)" font-size="9" fill="#000" stroke="#000" stroke-width="0.15">1.17320</text>
<text transform="translate(1687,350) scale(1,1.13)" font-size="9" fill="#000" stroke="#000" stroke-width="0.15">1.16580</text>
<text transform="translate(1687,383) scale(1,1.13)" font-size="9" fill="#000" stroke="#000" stroke-width="0.15">1.15860</text>
<text transform="translate(1687,416) scale(1,1.13)" font-size="9" fill="#000" stroke="#000" stroke-width="0.15">1.15120</text>
<text transform="translate(1687,449) scale(1,1.13)" font-size="9" fill="#000" stroke="#000" stroke-width="0.15">1.14380</text>
<text transform="translate(1687,482) scale(1,1.13)" font-size="9" fill="#000" stroke="#000" stroke-width="0.15">1.13640</text>
<text transform="translate(1687,515) scale(1,1.13)" font-size="9" fill="#000" stroke="#000" stroke-width="0.15">1.12900</text>
<text transform="translate(1687,548) scale(1,1.13)" font-size="9" fill="#000" stroke="#000" stroke-width="0.15">1.12180</text>
<text transform="translate(1687,581) scale(1,1.13)" font-size="9" fill="#000" stroke="#000" stroke-width="0.15">1.11440</text>
<rect x="1683" y="27" width="41" height="11" fill="#ff0000" shape-rendering="crispEdges"/>
<rect x="1683" y="40" width="41" height="11" fill="#ff0000" shape-rendering="crispEdges"/>
<rect x="1683" y="54" width="41" height="9" fill="#000000" shape-rendering="crispEdges"/>
<rect x="1683" y="62" width="41" height="11" fill="#ffa500" shape-rendering="crispEdges"/>
<rect x="1683" y="78" width="41" height="11" fill="#0000ff" shape-rendering="crispEdges"/>
<rect x="1683" y="94" width="41" height="11" fill="#0000ff" shape-rendering="crispEdges"/>
<rect x="1683" y="62" width="41" height="11" fill="#ffa500" shape-rendering="crispEdges"/>
<text transform="translate(1687,36) scale(1,1.13)" font-size="9" fill="#fff" stroke="#fff" stroke-width="0.15">1.23559</text>
<rect x="1676.5" y="31.5" width="4" height="4" fill="#fff" stroke="#ff0000" stroke-width="1" shape-rendering="crispEdges"/>
<text transform="translate(1687,49) scale(1,1.13)" font-size="9" fill="#fff" stroke="#fff" stroke-width="0.15">1.23269</text>
<rect x="1676.5" y="44.5" width="4" height="4" fill="#fff" stroke="#ff0000" stroke-width="1" shape-rendering="crispEdges"/>
<g clip-path="url(#blk)"><text transform="translate(1687,63) scale(1,1.13)" font-size="9" fill="#fff" stroke="#fff" stroke-width="0.2">1.22990</text></g>
<text transform="translate(1687,71) scale(1,1.13)" font-size="9" fill="#fff" stroke="#fff" stroke-width="0.15">1.22779</text>
<rect x="1676.5" y="66.5" width="4" height="4" fill="#fff" stroke="#ffa500" stroke-width="1" shape-rendering="crispEdges"/>
<text transform="translate(1687,87) scale(1,1.13)" font-size="9" fill="#fff" stroke="#fff" stroke-width="0.15">1.22423</text>
<rect x="1676.5" y="82.5" width="4" height="4" fill="#fff" stroke="#0000ff" stroke-width="1" shape-rendering="crispEdges"/>
<text transform="translate(1687,103) scale(1,1.13)" font-size="9" fill="#fff" stroke="#fff" stroke-width="0.15">1.22067</text>
<rect x="1676.5" y="98.5" width="4" height="4" fill="#fff" stroke="#0000ff" stroke-width="1" shape-rendering="crispEdges"/>
<text transform="translate(1685,593) scale(1,1.13)" font-size="9" fill="#000" stroke="#000" stroke-width="0.15">0.014706</text>
<text transform="translate(1685,712) scale(1,1.13)" font-size="9" fill="#000" stroke="#000" stroke-width="0.15">0.00</text>
<text transform="translate(1685,749) scale(1,1.13)" font-size="9" fill="#000" stroke="#000" stroke-width="0.15">-0.005113</text>
<text transform="translate(1685,765) scale(1,1.13)" font-size="9" fill="#000" stroke="#000" stroke-width="0.15">100</text>
<text transform="translate(1684.5,794) scale(1,1.13)" font-size="9" fill="#000" stroke="#000" stroke-width="0.15">80</text>
<text transform="translate(1684.5,845) scale(1,1.13)" font-size="9" fill="#000" stroke="#000" stroke-width="0.15">50</text>
<text transform="translate(1684.5,906) scale(1,1.13)" font-size="9" fill="#000" stroke="#000" stroke-width="0.15">15</text>
<text transform="translate(1685,925) scale(1,1.13)" font-size="9" fill="#000" stroke="#000" stroke-width="0.15">0</text>
<text transform="translate(-9,941) scale(1,1.13)" font-size="9" fill="#000" stroke="#000" stroke-width="0.15">5 Jun 2020</text>
<text transform="translate(55,941) scale(1,1.13)" font-size="9" fill="#000" stroke="#000" stroke-width="0.15">14 Jun 2020</text>
<text transform="translate(119,941) scale(1,1.13)" font-size="9" fill="#000" stroke="#000" stroke-width="0.15">23 Jun 2020</text>
<text transform="translate(183,941) scale(1,1.13)" font-size="9" fill="#000" stroke="#000" stroke-width="0.15">2 Jul 2020</text>
<text transform="translate(247,941) scale(1,1.13)" font-size="9" fill="#000" stroke="#000" stroke-width="0.15">12 Jul 2020</text>
<text transform="translate(311,941) scale(1,1.13)" font-size="9" fill="#000" stroke="#000" stroke-width="0.15">21 Jul 2020</text>
<text transform="translate(375,941) scale(1,1.13)" font-size="9" fill="#000" stroke="#000" stroke-width="0.15">30 Jul 2020</text>
<text transform="translate(439,941) scale(1,1.13)" font-size="9" fill="#000" stroke="#000" stroke-width="0.15">9 Aug 2020</text>
<text transform="translate(503,941) scale(1,1.13)" font-size="9" fill="#000" stroke="#000" stroke-width="0.15">18 Aug 2020</text>
<text transform="translate(567,941) scale(1,1.13)" font-size="9" fill="#000" stroke="#000" stroke-width="0.15">27 Aug 2020</text>
<text transform="translate(631,941) scale(1,1.13)" font-size="9" fill="#000" stroke="#000" stroke-width="0.15">6 Sep 2020</text>
<text transform="translate(695,941) scale(1,1.13)" font-size="9" fill="#000" stroke="#000" stroke-width="0.15">15 Sep 2020</text>
<text transform="translate(759,941) scale(1,1.13)" font-size="9" fill="#000" stroke="#000" stroke-width="0.15">24 Sep 2020</text>
<text transform="translate(823,941) scale(1,1.13)" font-size="9" fill="#000" stroke="#000" stroke-width="0.15">4 Oct 2020</text>
<text transform="translate(887,941) scale(1,1.13)" font-size="9" fill="#000" stroke="#000" stroke-width="0.15">13 Oct 2020</text>
<text transform="translate(951,941) scale(1,1.13)" font-size="9" fill="#000" stroke="#000" stroke-width="0.15">22 Oct 2020</text>
<text transform="translate(1015,941) scale(1,1.13)" font-size="9" fill="#000" stroke="#000" stroke-width="0.15">1 Nov 2020</text>
<text transform="translate(1079,941) scale(1,1.13)" font-size="9" fill="#000" stroke="#000" stroke-width="0.15">10 Nov 2020</text>
<text transform="translate(1143,941) scale(1,1.13)" font-size="9" fill="#000" stroke="#000" stroke-width="0.15">19 Nov 2020</text>
<text transform="translate(1207,941) scale(1,1.13)" font-size="9" fill="#000" stroke="#000" stroke-width="0.15">29 Nov 2020</text>
<text transform="translate(1271,941) scale(1,1.13)" font-size="9" fill="#000" stroke="#000" stroke-width="0.15">8 Dec 2020</text>
<text transform="translate(1335,941) scale(1,1.13)" font-size="9" fill="#000" stroke="#000" stroke-width="0.15">17 Dec 2020</text>
<text transform="translate(1399,941) scale(1,1.13)" font-size="9" fill="#000" stroke="#000" stroke-width="0.15">28 Dec 2020</text>
<text transform="translate(6.6,39) scale(1,1.03)" font-size="9.3" fill="#000" textLength="213.5" lengthAdjust="spacingAndGlyphs" stroke="#000" stroke-width="0.15" xml:space="preserve">EURUSD-,Daily&#160;&#160;1.22512 1.23090 1.22507 1.22990</text>
<text transform="translate(-5.5,595) scale(1,1.03)" font-size="9.3" fill="#000" textLength="147.8" lengthAdjust="spacingAndGlyphs" stroke="#000" stroke-width="0.15">MACD(12,26,9) 0.006677 0.007151</text>
<text transform="translate(-5.4,767) scale(1,1.03)" font-size="9.3" fill="#000" textLength="68.5" lengthAdjust="spacingAndGlyphs" stroke="#000" stroke-width="0.15">RSI(14) 71.1859</text>
<rect x="0" y="36" width="1" height="1" fill="#000"/>
<rect x="0" y="0" width="1728" height="23" fill="#f0f0f0" shape-rendering="crispEdges"/>
<rect x="0" y="22" width="1728" height="1" fill="#dcdcdc" shape-rendering="crispEdges"/>
<rect x="0" y="23" width="1728" height="1" fill="#a0a0a0" shape-rendering="crispEdges"/>
<rect x="0" y="24" width="1728" height="1" fill="#696969" shape-rendering="crispEdges"/>
<rect x="1727" y="25" width="1" height="921" fill="#e6e6e6" shape-rendering="crispEdges"/>
<rect x="-3" y="4.7" width="7" height="12" fill="#fff" stroke="#3a78c8" stroke-width="1.3"/>
<path d="M0 8H3M0 10H3M0 12H3M0 14H3" stroke="#9bbdf0" stroke-width="0.8"/>
<rect x="17.6" y="3.4" width="11.6" height="13" fill="#fbfaf6" stroke="#b0a890" stroke-width="0.9"/>
<path d="M20 6V12M23.5 5V10M27 6V11" stroke="#707070" stroke-width="0.9"/>
<line x1="29.5" y1="15.8" x2="34" y2="19.6" stroke="#c89a20" stroke-width="2.3" stroke-linecap="round"/>
<circle cx="25.4" cy="12.2" r="5.1" fill="#dce9f7" fill-opacity="0.8" stroke="#6f9fdc" stroke-width="1.2"/>
<rect x="42" y="1" width="1" height="20" fill="#a0a0a0" shape-rendering="crispEdges"/>
<path d="M52.8 3.6H60.5L63.8 6.9V16.8H52.8Z" fill="#fdfdfd" stroke="#6a6a6a" stroke-width="1"/>
<path d="M60.5 3.6V6.9H63.8" fill="none" stroke="#6a6a6a" stroke-width="0.8"/>
<path d="M54.8 6.2H57.6" stroke="#808080" stroke-width="1.4"/><path d="M54.8 9.3H59M54.8 11.5H58" stroke="#a0a0a0" stroke-width="0.9"/>
<path d="M60.5 9.4h3.8v3.7h3.7v3.8h-3.7v3.7h-3.8v-3.7h-3.7v-3.8h3.7z" fill="#2fd22f" stroke="#0a8a0a" stroke-width="1"/>
<text x="70.8" y="14.3" font-size="12" fill="#000" textLength="36" lengthAdjust="spacingAndGlyphs">新订单</text>
<path d="M119.3 13.2L126.3 4.2L135 9.2L128.8 18.8Z" fill="#e2ae2c" stroke="#a87812" stroke-width="0.9"/>
<path d="M121 12.6L127 5.8L132.8 9.2" fill="none" stroke="#f7dc7a" stroke-width="1.3"/>
<path d="M119.3 13.2L128.8 18.8L130 17" fill="none" stroke="#8a6210" stroke-width="1.2"/>
<path d="M150 4.2L158.5 3.2L160.3 5V12.5H150Z" fill="#2d9df0" stroke="#1c6fc0" stroke-width="0.8"/>
<path d="M152.5 4V12" stroke="#bfe2ff" stroke-width="1.2"/><path d="M154.5 7.5H158.5" stroke="#e8f5ff" stroke-width="1"/>
<path d="M150.5 18.3C146.5 18.3 146.5 13.8 150 13.8C150.5 10.8 155 10.8 155.8 13C157.5 11.2 161 12.6 160 14.6C163.4 14.6 163.4 18.3 160.3 18.3Z" fill="#f4f7fb" stroke="#6f87b0" stroke-width="0.9"/>
<circle cx="183" cy="11" r="7.6" fill="#e4efe0" stroke="#b9c9dc" stroke-width="0.8"/>
<path d="M183.6 3.4A7.6 7.6 0 0 1 183.6 18.6Z" fill="#9ccf8c" fill-opacity="0.75"/>
<circle cx="183" cy="11" r="5" fill="none" stroke="#5f8fd8" stroke-width="1"/>
<circle cx="183" cy="11" r="2.6" fill="none" stroke="#3f73cc" stroke-width="1"/>
<circle cx="183" cy="10.6" r="1.3" fill="#2458c0"/>
<path d="M183.5 11V18.6" stroke="#22aa22" stroke-width="1.4"/>
<path d="M203 10L217 10.5L211.5 18.5L208.5 18.2Z" fill="#f5d64a" stroke="#c9a21a" stroke-width="0.8"/>
<path d="M202.2 8.6C202.2 6.5 206 6.6 206.6 5.2C207.4 2.8 212.4 2.8 213.2 5.2C213.9 6.6 217.8 6.4 217.8 8.4C217.8 10.6 202.2 10.8 202.2 8.6Z" fill="#59a9e0" stroke="#2f7fc0" stroke-width="0.8"/>
<circle cx="214.3" cy="14.7" r="4.1" fill="#e02818" stroke="#b81808" stroke-width="0.6"/><rect x="212.7" y="13.1" width="3.2" height="3.2" fill="#fff"/>
<text x="223.6" y="14.3" font-size="12" fill="#000" textLength="46.6" lengthAdjust="spacingAndGlyphs">自动交易</text>
<rect x="278" y="1" width="1" height="20" fill="#a0a0a0" shape-rendering="crispEdges"/>
<rect x="279" y="1" width="1" height="20" fill="#ffffff" shape-rendering="crispEdges"/>
<rect x="282" y="2" width="3" height="1" fill="#a8a8a8" shape-rendering="crispEdges"/>
<rect x="282" y="4" width="3" height="1" fill="#a8a8a8" shape-rendering="crispEdges"/>
<rect x="282" y="6" width="3" height="1" fill="#a8a8a8" shape-rendering="crispEdges"/>
<rect x="282" y="8" width="3" height="1" fill="#a8a8a8" shape-rendering="crispEdges"/>
<rect x="282" y="10" width="3" height="1" fill="#a8a8a8" shape-rendering="crispEdges"/>
<rect x="282" y="12" width="3" height="1" fill="#a8a8a8" shape-rendering="crispEdges"/>
<rect x="282" y="14" width="3" height="1" fill="#a8a8a8" shape-rendering="crispEdges"/>
<rect x="282" y="16" width="3" height="1" fill="#a8a8a8" shape-rendering="crispEdges"/>
<rect x="282" y="18" width="3" height="1" fill="#a8a8a8" shape-rendering="crispEdges"/>
<rect x="282" y="20" width="3" height="1" fill="#a8a8a8" shape-rendering="crispEdges"/>
<path d="M296.5 6V18.6M294.0 16.6H306.5" stroke="#505050" stroke-width="1.1" fill="none"/>
<path d="M294.5 7.6L296.5 5L298.5 7.6Z M305.1 14.600000000000001L307.5 16.6L305.1 18.6Z" fill="#505050"/>
<path d="M302.6 6V14.6M302.6 7.7H305.2M302.6 13.4H300" stroke="#0a8a0a" stroke-width="1.3" fill="none"/>
<rect x="316" y="1" width="1" height="20" fill="#a0a0a0" shape-rendering="crispEdges"/>
<rect x="317" y="0" width="24" height="21" fill="#f9f9f9" shape-rendering="crispEdges"/>
<path d="M324.4 6V18.6M321.9 16.6H334.4" stroke="#505050" stroke-width="1.1" fill="none"/>
<path d="M322.4 7.6L324.4 5L326.4 7.6Z M333.0 14.600000000000001L335.4 16.6L333.0 18.6Z" fill="#505050"/>
<path d="M330.5 3.2V14.6" stroke="#0a8a0a" stroke-width="1.2"/><rect x="328.4" y="5.4" width="4.3" height="7.2" fill="#3fe03f" stroke="#0a8a0a" stroke-width="1"/>
<path d="M352.4 6V18.6M349.9 16.6H362.4" stroke="#505050" stroke-width="1.1" fill="none"/>
<path d="M350.4 7.6L352.4 5L354.4 7.6Z M361.0 14.600000000000001L363.4 16.6L361.0 18.6Z" fill="#505050"/>
<path d="M351.5 13.6C354 11.5 355 8.2 357 8.2C359 8.2 361 11.6 363 12.3" stroke="#1a9a3a" stroke-width="1.2" fill="none"/>
<rect x="373" y="1" width="1" height="20" fill="#a0a0a0" shape-rendering="crispEdges"/>
<line x1="392.3" y1="13.399999999999999" x2="396.8" y2="17.9" stroke="#d4a824" stroke-width="2.4" stroke-linecap="round"/>
<circle cx="388" cy="9.1" r="5.3" fill="#d3e6f8" stroke="#3f7fd0" stroke-width="1.2"/>
<path d="M385 9.1H391M388 6.1V12.1" stroke="#4b7fb8" stroke-width="1.5"/>
<line x1="420.5" y1="13.100000000000001" x2="425.0" y2="17.6" stroke="#d4a824" stroke-width="2.4" stroke-linecap="round"/>
<circle cx="416.2" cy="8.8" r="5.3" fill="#d3e6f8" stroke="#3f7fd0" stroke-width="1.2"/>
<path d="M413.2 8.8H419.2" stroke="#4b7fb8" stroke-width="1.5"/>
<rect x="438" y="3.3" width="7.9" height="7.7" fill="#3fae22"/>
<rect x="439.3" y="6.3" width="5.3" height="3.6" fill="#f4f8ff"/><rect x="440.2" y="7.3" width="3.5" height="0.9" fill="#3fae22" fill-opacity="0.6"/>
<rect x="446.2" y="3.3" width="7.9" height="7.7" fill="#2f62dc"/>
<rect x="447.5" y="6.3" width="5.3" height="3.6" fill="#f4f8ff"/><rect x="448.4" y="7.3" width="3.5" height="0.9" fill="#2f62dc" fill-opacity="0.6"/>
<rect x="438" y="11.3" width="7.9" height="7.7" fill="#2f62dc"/>
<rect x="439.3" y="14.3" width="5.3" height="3.6" fill="#f4f8ff"/><rect x="440.2" y="15.3" width="3.5" height="0.9" fill="#2f62dc" fill-opacity="0.6"/>
<rect x="446.2" y="11.3" width="7.9" height="7.7" fill="#3fae22"/>
<rect x="447.5" y="14.3" width="5.3" height="3.6" fill="#f4f8ff"/><rect x="448.4" y="15.3" width="3.5" height="0.9" fill="#3fae22" fill-opacity="0.6"/>
<rect x="463" y="1" width="1" height="20" fill="#a0a0a0" shape-rendering="crispEdges"/>
<rect x="468" y="0" width="1" height="21" fill="#a0a0a0" shape-rendering="crispEdges"/>
<rect x="469" y="0" width="24" height="21" fill="#f9f9f9" shape-rendering="crispEdges"/>
<path d="M476.5 6V18.6M474.0 16.6H486.5" stroke="#505050" stroke-width="1.1" fill="none"/>
<path d="M474.5 7.6L476.5 5L478.5 7.6Z M485.1 14.600000000000001L487.5 16.6L485.1 18.6Z" fill="#505050"/>
<path d="M481.2 7.4L485.2 10.6L481.2 13.8Z" fill="#5fdc5f" stroke="#0a9a0a" stroke-width="0.9"/>
<rect x="496" y="0" width="1" height="21" fill="#a0a0a0" shape-rendering="crispEdges"/>
<rect x="497" y="0" width="24" height="21" fill="#f9f9f9" shape-rendering="crispEdges"/>
<path d="M504.5 6V18.6M502.0 16.6H514.5" stroke="#505050" stroke-width="1.1" fill="none"/>
<path d="M502.5 7.6L504.5 5L506.5 7.6Z M513.1 14.600000000000001L515.5 16.6L513.1 18.6Z" fill="#505050"/>
<path d="M510.5 5.3V15" stroke="#1a6aa8" stroke-width="1.2"/><path d="M511.6 10.5L514.6 8.4V9.9H516.4V11.1H514.6V12.6Z" fill="#e04a10"/>
<rect x="525" y="1" width="1" height="20" fill="#a0a0a0" shape-rendering="crispEdges"/>
<path d="M535.8 3.6H543.3L546.6 6.9V16.6H535.8Z" fill="#fdfdfd" stroke="#6a6a6a" stroke-width="1"/>
<path d="M543.3 3.6V6.9H546.6" fill="none" stroke="#6a6a6a" stroke-width="0.8"/>
<text x="537.6" y="12.6" font-size="9" fill="#404040" font-style="italic" style="font-family:Liberation Serif,serif">f</text>
<path d="M543.2 9.4h3.8v3.7h3.7v3.8h-3.7v3.7h-3.8v-3.7h-3.7v-3.8h3.7z" fill="#2fd22f" stroke="#0a8a0a" stroke-width="1"/>
<polygon points="556.8,10 562.1999999999999,10 559.5,13" fill="#000"/>
<circle cx="581.1" cy="10.9" r="6.6" fill="#fbfdff" stroke="#1f6fd6" stroke-width="2.4"/>
<circle cx="581.1" cy="10.9" r="5" fill="none" stroke="#c9d3de" stroke-width="0.8" stroke-dasharray="0.8 1.8"/>
<path d="M580.6 6.6V11.2H583.6" stroke="#303030" stroke-width="1.2" fill="none"/>
<polygon points="595.7,10 601.1,10 598.4000000000001,13" fill="#000"/>
<rect x="612.8" y="4.5" width="14.6" height="12.6" fill="#fff" stroke="#3a72c4" stroke-width="1.1"/>
<rect x="612.8" y="4.5" width="14.6" height="2.4" fill="#3f7fd2"/>
<path d="M613 11.8H627.4" stroke="#3a72c4" stroke-width="0.9"/>
<path d="M614.5 10.2L617 9.4L618.8 8.4L621 9.2L623.5 8.8L626 7.9" stroke="#b02010" stroke-width="1.2" fill="none"/>
<path d="M614.8 15.2L617.2 14.2L619.2 15L621.6 13.4L623.6 14.4L625.8 15.4" stroke="#1a9a2a" stroke-width="1.2" fill="none"/>
<polygon points="634.9,10 640.3,10 637.6,13" fill="#000"/>
<rect x="646" y="1" width="1" height="20" fill="#a0a0a0" shape-rendering="crispEdges"/>
<rect x="647" y="1" width="1" height="20" fill="#ffffff" shape-rendering="crispEdges"/>
<rect x="650" y="2" width="3" height="1" fill="#a8a8a8" shape-rendering="crispEdges"/>
<rect x="650" y="4" width="3" height="1" fill="#a8a8a8" shape-rendering="crispEdges"/>
<rect x="650" y="6" width="3" height="1" fill="#a8a8a8" shape-rendering="crispEdges"/>
<rect x="650" y="8" width="3" height="1" fill="#a8a8a8" shape-rendering="crispEdges"/>
<rect x="650" y="10" width="3" height="1" fill="#a8a8a8" shape-rendering="crispEdges"/>
<rect x="650" y="12" width="3" height="1" fill="#a8a8a8" shape-rendering="crispEdges"/>
<rect x="650" y="14" width="3" height="1" fill="#a8a8a8" shape-rendering="crispEdges"/>
<rect x="650" y="16" width="3" height="1" fill="#a8a8a8" shape-rendering="crispEdges"/>
<rect x="650" y="18" width="3" height="1" fill="#a8a8a8" shape-rendering="crispEdges"/>
<rect x="650" y="20" width="3" height="1" fill="#a8a8a8" shape-rendering="crispEdges"/>
<rect x="656" y="0" width="1" height="21" fill="#a0a0a0" shape-rendering="crispEdges"/>
<rect x="657" y="0" width="24" height="21" fill="#f9f9f9" shape-rendering="crispEdges"/>
<path d="M664 3.6L672 11.6L668.4 11.9L670.9 17.5L668.9 18.3L666.5 12.8L664 15.2Z" fill="#3c3c3c"/>
<path d="M689 11.3H695.4M697.6 11.3H704M696.5 4V10.2M696.5 12.4V19" stroke="#404040" stroke-width="1.1"/>
<rect x="713" y="1" width="1" height="20" fill="#a0a0a0" shape-rendering="crispEdges"/>
<path d="M730.5 4.9V17.8" stroke="#484848" stroke-width="1.1"/>
<path d="M753 11.3H765" stroke="#484848" stroke-width="1.1"/>
<path d="M780.8 17.6L793.1 5.5" stroke="#484848" stroke-width="1.1"/>
<path d="M807 14.5L819 4.5M809 17.5L821 8.5M810.5 9.5L812.5 17M814.5 6.5L816.5 14M818 4L820 10.5" stroke="#505050" stroke-width="0.9" fill="none"/>
<text x="817.6" y="19.8" font-size="6.6" font-weight="bold" fill="#303030">E</text>
<path d="M836 4.4H849" stroke="#505050" stroke-width="1" stroke-dasharray="1 1"/>
<path d="M836 7.7H849" stroke="#505050" stroke-width="1" stroke-dasharray="1 1"/>
<path d="M836 11.5H849" stroke="#505050" stroke-width="1" stroke-dasharray="1 1"/>
<path d="M836 15.4H844" stroke="#505050" stroke-width="1" stroke-dasharray="1 1"/>
<text x="845.8" y="19.8" font-size="6.6" font-weight="bold" fill="#303030">F</text>
<text x="866.2" y="16" font-size="12.4" fill="#505050" stroke="#505050" stroke-width="0.3">A</text>
<rect x="893.1" y="5.5" width="11.2" height="11.8" fill="none" stroke="#505050" stroke-width="1" stroke-dasharray="1 1"/>
<text x="894.9" y="15.6" font-size="11.5" fill="#505050" stroke="#505050" stroke-width="0.3">T</text>
<path d="M920.4 7.7L923.4 4.9L926.4 7.7L923.4 10.2Z M927.2 13.8L930.4 11.2L933.6 13.8L930.4 17Z" fill="#404040"/>
<path d="M921.6 12.2L924 14.4L929.4 8.4" stroke="#404040" stroke-width="1.3" fill="none"/>
<polygon points="940.4,10 945.8,10 943.1,13" fill="#000"/>
<rect x="952" y="1" width="1" height="20" fill="#a0a0a0" shape-rendering="crispEdges"/>
<rect x="953" y="1" width="1" height="20" fill="#ffffff" shape-rendering="crispEdges"/>
<rect x="956" y="2" width="3" height="1" fill="#a8a8a8" shape-rendering="crispEdges"/>
<rect x="956" y="4" width="3" height="1" fill="#a8a8a8" shape-rendering="crispEdges"/>
<rect x="956" y="6" width="3" height="1" fill="#a8a8a8" shape-rendering="crispEdges"/>
<rect x="956" y="8" width="3" height="1" fill="#a8a8a8" shape-rendering="crispEdges"/>
<rect x="956" y="10" width="3" height="1" fill="#a8a8a8" shape-rendering="crispEdges"/>
<rect x="956" y="12" width="3" height="1" fill="#a8a8a8" shape-rendering="crispEdges"/>
<rect x="956" y="14" width="3" height="1" fill="#a8a8a8" shape-rendering="crispEdges"/>
<rect x="956" y="16" width="3" height="1" fill="#a8a8a8" shape-rendering="crispEdges"/>
<rect x="956" y="18" width="3" height="1" fill="#a8a8a8" shape-rendering="crispEdges"/>
<rect x="956" y="20" width="3" height="1" fill="#a8a8a8" shape-rendering="crispEdges"/>
<rect x="1130" y="0" width="1" height="21" fill="#a0a0a0" shape-rendering="crispEdges"/>
<rect x="1131" y="0" width="24" height="21" fill="#f9f9f9" shape-rendering="crispEdges"/>
<text x="967.0" y="14.9" font-size="9.5" fill="#3a3a3a" textLength="13.8" lengthAdjust="spacingAndGlyphs">M1</text>
<text x="994.9" y="14.9" font-size="9.5" fill="#3a3a3a" textLength="13.4" lengthAdjust="spacingAndGlyphs">M5</text>
<text x="1021.3" y="14.9" font-size="9.5" fill="#3a3a3a" textLength="18.1" lengthAdjust="spacingAndGlyphs">M15</text>
<text x="1048.8" y="14.9" font-size="9.5" fill="#3a3a3a" textLength="18.5" lengthAdjust="spacingAndGlyphs">M30</text>
<text x="1080.5" y="14.9" font-size="9.5" fill="#3a3a3a" textLength="12.1" lengthAdjust="spacingAndGlyphs">H1</text>
<text x="1107.5" y="14.9" font-size="9.5" fill="#3a3a3a" textLength="13" lengthAdjust="spacingAndGlyphs">H4</text>
<text x="1136.2" y="14.9" font-size="9.5" fill="#3a3a3a" textLength="12.1" lengthAdjust="spacingAndGlyphs">D1</text>
<text x="1163.7" y="14.9" font-size="9.5" fill="#3a3a3a" textLength="15.1" lengthAdjust="spacingAndGlyphs">W1</text>
<text x="1190.1" y="14.9" font-size="9.5" fill="#3a3a3a" textLength="15.4" lengthAdjust="spacingAndGlyphs">MN</text>
<rect x="1213" y="1" width="1" height="20" fill="#a0a0a0" shape-rendering="crispEdges"/>
<line x1="1680.6" y1="11.8" x2="1675.8" y2="15.9" stroke="#2a5ccc" stroke-width="2.4" stroke-linecap="round"/>
<circle cx="1683.5" cy="8.4" r="3.9" fill="#f4f4f4" stroke="#2a5ccc" stroke-width="1.2"/>
<path d="M1703 18.8L1703.6 16.6C1698.6 14.6 1699.6 8.6 1705.7 8.4C1712.4 8.6 1712.8 16.6 1706 17.4Z" fill="#e4e6ee" stroke="#b4b8c0" stroke-width="0.8"/>
<defs><linearGradient id="bdg" x1="0" y1="0" x2="0" y2="1"><stop offset="0" stop-color="#ea5a36"/><stop offset="1" stop-color="#d01c0c"/></linearGradient></defs>
<circle cx="1714.6" cy="8.4" r="8.1" fill="url(#bdg)"/>
<text x="1714.2" y="13" font-size="13" fill="#fff" stroke="#fff" stroke-width="0.45" text-anchor="middle">1</text>
<defs>
<linearGradient id="g1" x1="0" y1="0" x2="0" y2="1"><stop offset="0" stop-color="#f65454"/><stop offset="1" stop-color="#d62a2a"/></linearGradient>
<linearGradient id="g2" x1="0" y1="0" x2="0" y2="1"><stop offset="0" stop-color="#d93030"/><stop offset="1" stop-color="#ae0202"/></linearGradient>
<linearGradient id="g3" x1="0" y1="0" x2="0" y2="1"><stop offset="0" stop-color="#f4f4f4"/><stop offset="0.5" stop-color="#dcdcdc"/><stop offset="1" stop-color="#c8c8c8"/></linearGradient>
</defs>
<rect x="0" y="46" width="215" height="65" fill="#fff" shape-rendering="crispEdges"/>
<rect x="0" y="47" width="45.5" height="25" fill="url(#g1)"/>
<rect x="161" y="47" width="52" height="25" fill="url(#g1)"/>
<rect x="0" y="71" width="103" height="40" fill="url(#g2)"/>
<rect x="105" y="71" width="108" height="40" fill="url(#g2)"/>
<rect x="0" y="70" width="42" height="1" fill="#f08080" shape-rendering="crispEdges"/>
<rect x="165" y="70" width="44" height="1" fill="#f08080" shape-rendering="crispEdges"/>
<rect x="103" y="71" width="2" height="40" fill="#fff" shape-rendering="crispEdges"/>
<rect x="48.5" y="47.5" width="110" height="21" fill="#fff" stroke="#a6a6a6" stroke-width="1" shape-rendering="crispEdges"/>
<rect x="49.5" y="48.5" width="19.5" height="19" fill="url(#g3)" stroke="#b8b8b8" stroke-width="0.6"/>
<rect x="138" y="48.5" width="19.5" height="19" fill="url(#g3)" stroke="#b8b8b8" stroke-width="0.6"/>
<polygon points="56,56.6 61,56.6 58.5,59.6" fill="#4a5ab8"/>
<polygon points="145,59.4 150,59.4 147.5,56.4" fill="#4a5ab8"/>
<text x="133.8" y="62.4" font-size="12.4" fill="#101010" text-anchor="end">1.00</text>
<text x="5.9" y="62.9" font-size="12.6" fill="#fff" textLength="26.2" lengthAdjust="spacingAndGlyphs">SELL</text>
<text x="174.2" y="62.9" font-size="12.6" fill="#fff" textLength="23.6" lengthAdjust="spacingAndGlyphs">BUY</text>
<text x="13.6" y="102" font-size="13.6" font-weight="bold" fill="#fff" textLength="24.6" lengthAdjust="spacingAndGlyphs">1.22</text>
<text x="123.5" y="102" font-size="13.6" font-weight="bold" fill="#fff" textLength="24.6" lengthAdjust="spacingAndGlyphs">1.23</text>
<text x="41" y="102.4" font-size="35" fill="#fff" textLength="35.6" lengthAdjust="spacingAndGlyphs">99</text>
<text x="151.1" y="102.4" font-size="35" fill="#fff" textLength="36" lengthAdjust="spacingAndGlyphs">00</text>
<text x="80.9" y="85.8" font-size="12.4" font-weight="bold" fill="#fff">0</text>
<text x="191.7" y="85.8" font-size="12.4" font-weight="bold" fill="#fff">8</text>
</svg>

</body></html>
